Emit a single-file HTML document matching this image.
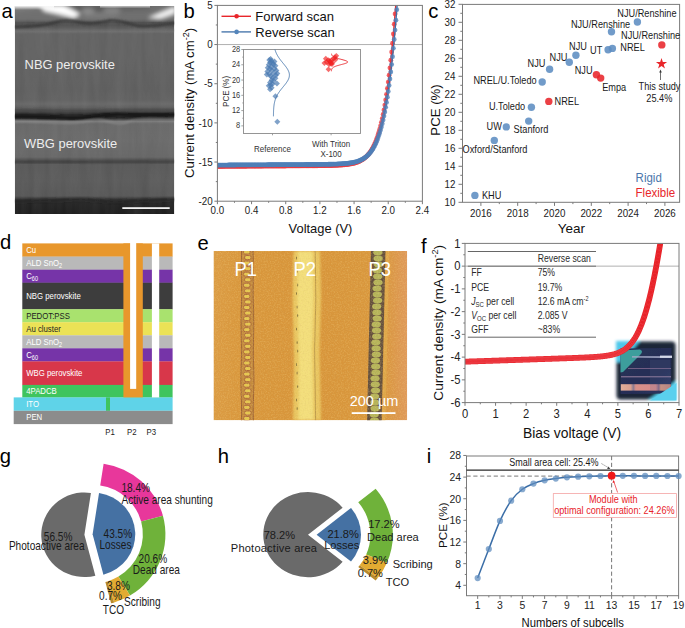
<!DOCTYPE html>
<html><head><meta charset="utf-8"><style>
html,body{margin:0;padding:0;background:#fff;width:685px;height:628px;overflow:hidden}
svg{display:block}
text{font-family:"Liberation Sans", sans-serif}
</style></head><body>
<svg width="685" height="628" viewBox="0 0 685 628" font-family='"Liberation Sans", sans-serif'>
<rect width="685" height="628" fill="#fff"/>
<defs><linearGradient id="semv" x1="0" y1="0" x2="0" y2="1"><stop offset="0.0000" stop-color="#686868"/><stop offset="0.0433" stop-color="#6c6c6c"/><stop offset="0.0625" stop-color="#626262"/><stop offset="0.0793" stop-color="#4c4c4c"/><stop offset="0.0938" stop-color="#4e4e4e"/><stop offset="0.1082" stop-color="#5a5a5a"/><stop offset="0.1226" stop-color="#6a6a6a"/><stop offset="0.1346" stop-color="#5f5f5f"/><stop offset="0.2596" stop-color="#5f5f5f"/><stop offset="0.4038" stop-color="#5c5c5c"/><stop offset="0.4519" stop-color="#5e5e5e"/><stop offset="0.4712" stop-color="#666666"/><stop offset="0.4904" stop-color="#5a5a5a"/><stop offset="0.5048" stop-color="#464646"/><stop offset="0.5192" stop-color="#2a2a2a"/><stop offset="0.5385" stop-color="#222222"/><stop offset="0.5481" stop-color="#505050"/><stop offset="0.5553" stop-color="#767676"/><stop offset="0.5673" stop-color="#666666"/><stop offset="0.6442" stop-color="#686868"/><stop offset="0.7260" stop-color="#646464"/><stop offset="0.7404" stop-color="#4c4c4c"/><stop offset="0.7500" stop-color="#3c3c3c"/><stop offset="0.7620" stop-color="#565656"/><stop offset="0.8365" stop-color="#585858"/><stop offset="0.9135" stop-color="#545454"/><stop offset="0.9303" stop-color="#303030"/><stop offset="0.9471" stop-color="#1f1f1f"/><stop offset="1.0000" stop-color="#1a1a1a"/></linearGradient><filter id="semblur" x="-10%" y="-10%" width="120%" height="120%"><feGaussianBlur stdDeviation="2.3"/></filter><filter id="semblur2" x="-10%" y="-10%" width="120%" height="120%"><feGaussianBlur stdDeviation="1.1"/></filter><filter id="semnoise" x="0" y="0" width="100%" height="100%"><feTurbulence type="fractalNoise" baseFrequency="0.12 0.015" numOctaves="2" seed="3"/><feColorMatrix type="matrix" values="0 0 0 0 0.5  0 0 0 0 0.5  0 0 0 0 0.5  0 0 0 0.22 0"/></filter><clipPath id="semclip"><rect x="14.8" y="6.0" width="159.5" height="208.0"/></clipPath></defs>
<g clip-path="url(#semclip)">
<rect x="14.8" y="6" width="159.5" height="208" fill="url(#semv)" />
<rect x="14.8" y="6.0" width="159.5" height="208.0" filter="url(#semnoise)" opacity="0.6"/>
<g filter="url(#semblur)"><path d="M14,6 L176,6 L176,20 L14,20 Z" fill="#707070"/><path d="M64,6 L105,6 L105,11 L70,12 Z" fill="#595959"/><path d="M105,6 L150,6 L150,10 L105,12 Z" fill="#636363"/><path d="M40,5 L64,5 L80,14 L74,18 L58,14 L44,11 Z" fill="#ffffff"/><path d="M148,18 L176,6 L176,13 L160,19 Z" fill="#f4f4f4"/><path d="M14,5 L40,5 L40,9 L14,12 Z" fill="#7c7c7c"/><path d="M84,14 C95,12 110,14 118,10 L120,16 C110,19 95,18 84,18 Z" fill="#7a7a7a"/><ellipse cx="88" cy="11" rx="7" ry="3" fill="#8c8c8c"/><ellipse cx="112" cy="10" rx="9" ry="2.5" fill="#868686"/></g>
<g filter="url(#semblur2)" fill="none"><path d="M14,27 C30,26.5 45,26 55,22.5 C62,20 70,20 80,22.5 C90,25 100,22.5 110,20.5 C120,19.5 130,25 140,26 C150,27 160,24.5 176,23" stroke="#3a3a3a" stroke-width="2.4"/><path d="M14,31.5 C60,30.5 120,31 176,30.5" stroke="#6e6e6e" stroke-width="1"/><path d="M14,116.5 C30,116 50,117 70,117.8 C90,118.5 105,114 120,114.5 C135,115 150,115.5 176,114.5" stroke="#181818" stroke-width="4.2"/><path d="M14,110.5 C40,110 70,111.5 100,110.5 C130,109.5 150,110.5 176,110" stroke="#464646" stroke-width="1.6"/><path d="M14,121.5 C30,120.5 50,123 70,123 C85,123 92,119 100,120 C110,121 118,126 128,122 C138,118 150,120 176,119.5" stroke="#8a8a8a" stroke-width="1.4"/><path d="M14,161.8 C60,162.5 120,161.3 176,161.5" stroke="#454545" stroke-width="1.2"/><path d="M14,201 C40,201 60,199.5 80,199.5 C95,199.5 100,201.5 115,201.5 C130,201 150,200 176,199.5" stroke="#262626" stroke-width="2.4"/></g>
<defs><linearGradient id="semtop" x1="0" y1="0" x2="0" y2="1"><stop offset="0" stop-color="#fff" stop-opacity="1"/><stop offset="1" stop-color="#fff" stop-opacity="0"/></linearGradient></defs>
<rect x="14" y="5.5" width="40" height="4.5" fill="url(#semtop)"/>
<rect x="100" y="5.5" width="50" height="3" fill="url(#semtop)" opacity="0.7"/>
</g>
<text x="24.6" y="68.6" font-size="12.9" text-anchor="start" fill="#ededed" >NBG perovskite</text>
<text x="24.1" y="148.4" font-size="12.9" text-anchor="start" fill="#ededed" >WBG perovskite</text>
<rect x="122.3" y="207.2" width="47.4" height="1.8" fill="#f2f2f2" />
<text transform="translate(1.6,17.9) scale(1,1.03)" font-size="20.2" text-anchor="start" fill="#000" >a</text>
<line x1="217.4" y1="44.56" x2="422.4" y2="44.56" stroke="#a8a8a8" stroke-width="0.9" />
<clipPath id="bclip"><rect x="217.4" y="5.4" width="204.99999999999997" height="195.79999999999998"/></clipPath>
<g clip-path="url(#bclip)">
<polyline fill="none" stroke="#e8262b" stroke-width="1.4" points="217.4,166.42 218.25,166.41 219.11,166.41 219.96,166.4 220.82,166.39 221.67,166.39 222.53,166.38 223.38,166.38 224.23,166.37 225.09,166.37 225.94,166.36 226.8,166.36 227.65,166.35 228.5,166.35 229.36,166.34 230.21,166.33 231.07,166.33 231.92,166.32 232.78,166.32 233.63,166.31 234.48,166.31 235.34,166.3 236.19,166.3 237.05,166.29 237.9,166.29 238.75,166.28 239.61,166.27 240.46,166.27 241.32,166.26 242.17,166.26 243.03,166.25 243.88,166.25 244.73,166.24 245.59,166.24 246.44,166.23 247.3,166.22 248.15,166.22 249,166.21 249.86,166.21 250.71,166.2 251.57,166.2 252.42,166.19 253.28,166.19 254.13,166.18 254.98,166.18 255.84,166.17 256.69,166.16 257.55,166.16 258.4,166.15 259.25,166.15 260.11,166.14 260.96,166.14 261.82,166.13 262.67,166.13 263.52,166.12 264.38,166.11 265.23,166.11 266.09,166.1 266.94,166.1 267.8,166.09 268.65,166.09 269.5,166.08 270.36,166.08 271.21,166.07 272.07,166.07 272.92,166.06 273.77,166.05 274.63,166.05 275.48,166.04 276.34,166.04 277.19,166.03 278.05,166.03 278.9,166.02 279.75,166.02 280.61,166.01 281.46,166 282.32,166 283.17,165.99 284.02,165.99 284.88,165.98 285.73,165.98 286.59,165.97 287.44,165.97 288.3,165.96 289.15,165.95 290,165.95 290.86,165.94 291.71,165.94 292.57,165.93 293.42,165.93 294.27,165.92 295.13,165.91 295.98,165.91 296.84,165.9 297.69,165.9 298.55,165.89 299.4,165.88 300.25,165.88 301.11,165.87 301.96,165.87 302.82,165.86 303.67,165.85 304.52,165.85 305.38,165.84 306.23,165.83 307.09,165.83 307.94,165.82 308.8,165.81 309.65,165.81 310.5,165.8 311.36,165.79 312.21,165.78 313.07,165.78 313.92,165.77 314.77,165.76 315.63,165.75 316.48,165.74 317.34,165.73 318.19,165.72 319.05,165.72 319.9,165.7 320.75,165.69 321.61,165.68 322.46,165.67 323.32,165.66 324.17,165.64 325.02,165.63 325.88,165.62 326.73,165.6 327.59,165.58 328.44,165.57 329.3,165.55 330.15,165.53 331,165.5 331.86,165.48 332.71,165.45 333.57,165.43 334.42,165.4 335.27,165.37 336.13,165.33 336.98,165.29 337.84,165.25 338.69,165.21 339.55,165.16 340.4,165.11 341.25,165.05 342.11,164.99 342.96,164.93 343.82,164.85 344.67,164.77 345.52,164.69 346.38,164.59 347.23,164.49 348.09,164.37 348.94,164.25 349.8,164.11 350.65,163.97 351.5,163.8 352.36,163.63 353.21,163.43 354.07,163.22 354.92,162.99 355.77,162.73 356.63,162.45 357.48,162.14 358.34,161.81 359.19,161.44 360.05,161.04 360.9,160.6 361.75,160.11 362.61,159.58 363.46,159 364.32,158.37 365.17,157.68 366.02,156.92 366.88,156.09 367.73,155.18 368.59,154.18 369.44,153.09 370.3,151.91 371.15,150.61 372,149.19 372.86,147.65 373.71,145.96 374.57,144.13 375.42,142.13 376.27,139.95 377.13,137.59 377.98,135.02 378.84,132.22 379.69,129.2 380.55,125.92 381.4,122.37 382.25,118.53 383.11,114.38 383.96,109.92 384.82,105.1 385.67,99.93 386.52,94.37 387.38,88.42 388.23,82.04 389.09,75.23 389.94,67.96 390.8,60.22 391.65,51.99 392.5,43.25 393.36,34 394.21,24.22 395.07,13.9 395.92,3.03"/>
<circle cx="217.4" cy="166.42" r="2.4" fill="#ec3a3e" fill-opacity="0.8"/>
<circle cx="218.25" cy="166.41" r="2.4" fill="#ec3a3e" fill-opacity="0.8"/>
<circle cx="219.11" cy="166.41" r="2.4" fill="#ec3a3e" fill-opacity="0.8"/>
<circle cx="219.96" cy="166.4" r="2.4" fill="#ec3a3e" fill-opacity="0.8"/>
<circle cx="220.82" cy="166.39" r="2.4" fill="#ec3a3e" fill-opacity="0.8"/>
<circle cx="221.67" cy="166.39" r="2.4" fill="#ec3a3e" fill-opacity="0.8"/>
<circle cx="222.53" cy="166.38" r="2.4" fill="#ec3a3e" fill-opacity="0.8"/>
<circle cx="223.38" cy="166.38" r="2.4" fill="#ec3a3e" fill-opacity="0.8"/>
<circle cx="224.23" cy="166.37" r="2.4" fill="#ec3a3e" fill-opacity="0.8"/>
<circle cx="225.09" cy="166.37" r="2.4" fill="#ec3a3e" fill-opacity="0.8"/>
<circle cx="225.94" cy="166.36" r="2.4" fill="#ec3a3e" fill-opacity="0.8"/>
<circle cx="226.8" cy="166.36" r="2.4" fill="#ec3a3e" fill-opacity="0.8"/>
<circle cx="227.65" cy="166.35" r="2.4" fill="#ec3a3e" fill-opacity="0.8"/>
<circle cx="228.5" cy="166.35" r="2.4" fill="#ec3a3e" fill-opacity="0.8"/>
<circle cx="229.36" cy="166.34" r="2.4" fill="#ec3a3e" fill-opacity="0.8"/>
<circle cx="230.21" cy="166.33" r="2.4" fill="#ec3a3e" fill-opacity="0.8"/>
<circle cx="231.07" cy="166.33" r="2.4" fill="#ec3a3e" fill-opacity="0.8"/>
<circle cx="231.92" cy="166.32" r="2.4" fill="#ec3a3e" fill-opacity="0.8"/>
<circle cx="232.78" cy="166.32" r="2.4" fill="#ec3a3e" fill-opacity="0.8"/>
<circle cx="233.63" cy="166.31" r="2.4" fill="#ec3a3e" fill-opacity="0.8"/>
<circle cx="234.48" cy="166.31" r="2.4" fill="#ec3a3e" fill-opacity="0.8"/>
<circle cx="235.34" cy="166.3" r="2.4" fill="#ec3a3e" fill-opacity="0.8"/>
<circle cx="236.19" cy="166.3" r="2.4" fill="#ec3a3e" fill-opacity="0.8"/>
<circle cx="237.05" cy="166.29" r="2.4" fill="#ec3a3e" fill-opacity="0.8"/>
<circle cx="237.9" cy="166.29" r="2.4" fill="#ec3a3e" fill-opacity="0.8"/>
<circle cx="238.75" cy="166.28" r="2.4" fill="#ec3a3e" fill-opacity="0.8"/>
<circle cx="239.61" cy="166.27" r="2.4" fill="#ec3a3e" fill-opacity="0.8"/>
<circle cx="240.46" cy="166.27" r="2.4" fill="#ec3a3e" fill-opacity="0.8"/>
<circle cx="241.32" cy="166.26" r="2.4" fill="#ec3a3e" fill-opacity="0.8"/>
<circle cx="242.17" cy="166.26" r="2.4" fill="#ec3a3e" fill-opacity="0.8"/>
<circle cx="243.03" cy="166.25" r="2.4" fill="#ec3a3e" fill-opacity="0.8"/>
<circle cx="243.88" cy="166.25" r="2.4" fill="#ec3a3e" fill-opacity="0.8"/>
<circle cx="244.73" cy="166.24" r="2.4" fill="#ec3a3e" fill-opacity="0.8"/>
<circle cx="245.59" cy="166.24" r="2.4" fill="#ec3a3e" fill-opacity="0.8"/>
<circle cx="246.44" cy="166.23" r="2.4" fill="#ec3a3e" fill-opacity="0.8"/>
<circle cx="247.3" cy="166.22" r="2.4" fill="#ec3a3e" fill-opacity="0.8"/>
<circle cx="248.15" cy="166.22" r="2.4" fill="#ec3a3e" fill-opacity="0.8"/>
<circle cx="249" cy="166.21" r="2.4" fill="#ec3a3e" fill-opacity="0.8"/>
<circle cx="249.86" cy="166.21" r="2.4" fill="#ec3a3e" fill-opacity="0.8"/>
<circle cx="250.71" cy="166.2" r="2.4" fill="#ec3a3e" fill-opacity="0.8"/>
<circle cx="251.57" cy="166.2" r="2.4" fill="#ec3a3e" fill-opacity="0.8"/>
<circle cx="252.42" cy="166.19" r="2.4" fill="#ec3a3e" fill-opacity="0.8"/>
<circle cx="253.28" cy="166.19" r="2.4" fill="#ec3a3e" fill-opacity="0.8"/>
<circle cx="254.13" cy="166.18" r="2.4" fill="#ec3a3e" fill-opacity="0.8"/>
<circle cx="254.98" cy="166.18" r="2.4" fill="#ec3a3e" fill-opacity="0.8"/>
<circle cx="255.84" cy="166.17" r="2.4" fill="#ec3a3e" fill-opacity="0.8"/>
<circle cx="256.69" cy="166.16" r="2.4" fill="#ec3a3e" fill-opacity="0.8"/>
<circle cx="257.55" cy="166.16" r="2.4" fill="#ec3a3e" fill-opacity="0.8"/>
<circle cx="258.4" cy="166.15" r="2.4" fill="#ec3a3e" fill-opacity="0.8"/>
<circle cx="259.25" cy="166.15" r="2.4" fill="#ec3a3e" fill-opacity="0.8"/>
<circle cx="260.11" cy="166.14" r="2.4" fill="#ec3a3e" fill-opacity="0.8"/>
<circle cx="260.96" cy="166.14" r="2.4" fill="#ec3a3e" fill-opacity="0.8"/>
<circle cx="261.82" cy="166.13" r="2.4" fill="#ec3a3e" fill-opacity="0.8"/>
<circle cx="262.67" cy="166.13" r="2.4" fill="#ec3a3e" fill-opacity="0.8"/>
<circle cx="263.52" cy="166.12" r="2.4" fill="#ec3a3e" fill-opacity="0.8"/>
<circle cx="264.38" cy="166.11" r="2.4" fill="#ec3a3e" fill-opacity="0.8"/>
<circle cx="265.23" cy="166.11" r="2.4" fill="#ec3a3e" fill-opacity="0.8"/>
<circle cx="266.09" cy="166.1" r="2.4" fill="#ec3a3e" fill-opacity="0.8"/>
<circle cx="266.94" cy="166.1" r="2.4" fill="#ec3a3e" fill-opacity="0.8"/>
<circle cx="267.8" cy="166.09" r="2.4" fill="#ec3a3e" fill-opacity="0.8"/>
<circle cx="268.65" cy="166.09" r="2.4" fill="#ec3a3e" fill-opacity="0.8"/>
<circle cx="269.5" cy="166.08" r="2.4" fill="#ec3a3e" fill-opacity="0.8"/>
<circle cx="270.36" cy="166.08" r="2.4" fill="#ec3a3e" fill-opacity="0.8"/>
<circle cx="271.21" cy="166.07" r="2.4" fill="#ec3a3e" fill-opacity="0.8"/>
<circle cx="272.07" cy="166.07" r="2.4" fill="#ec3a3e" fill-opacity="0.8"/>
<circle cx="272.92" cy="166.06" r="2.4" fill="#ec3a3e" fill-opacity="0.8"/>
<circle cx="273.77" cy="166.05" r="2.4" fill="#ec3a3e" fill-opacity="0.8"/>
<circle cx="274.63" cy="166.05" r="2.4" fill="#ec3a3e" fill-opacity="0.8"/>
<circle cx="275.48" cy="166.04" r="2.4" fill="#ec3a3e" fill-opacity="0.8"/>
<circle cx="276.34" cy="166.04" r="2.4" fill="#ec3a3e" fill-opacity="0.8"/>
<circle cx="277.19" cy="166.03" r="2.4" fill="#ec3a3e" fill-opacity="0.8"/>
<circle cx="278.05" cy="166.03" r="2.4" fill="#ec3a3e" fill-opacity="0.8"/>
<circle cx="278.9" cy="166.02" r="2.4" fill="#ec3a3e" fill-opacity="0.8"/>
<circle cx="279.75" cy="166.02" r="2.4" fill="#ec3a3e" fill-opacity="0.8"/>
<circle cx="280.61" cy="166.01" r="2.4" fill="#ec3a3e" fill-opacity="0.8"/>
<circle cx="281.46" cy="166" r="2.4" fill="#ec3a3e" fill-opacity="0.8"/>
<circle cx="282.32" cy="166" r="2.4" fill="#ec3a3e" fill-opacity="0.8"/>
<circle cx="283.17" cy="165.99" r="2.4" fill="#ec3a3e" fill-opacity="0.8"/>
<circle cx="284.02" cy="165.99" r="2.4" fill="#ec3a3e" fill-opacity="0.8"/>
<circle cx="284.88" cy="165.98" r="2.4" fill="#ec3a3e" fill-opacity="0.8"/>
<circle cx="285.73" cy="165.98" r="2.4" fill="#ec3a3e" fill-opacity="0.8"/>
<circle cx="286.59" cy="165.97" r="2.4" fill="#ec3a3e" fill-opacity="0.8"/>
<circle cx="287.44" cy="165.97" r="2.4" fill="#ec3a3e" fill-opacity="0.8"/>
<circle cx="288.3" cy="165.96" r="2.4" fill="#ec3a3e" fill-opacity="0.8"/>
<circle cx="289.15" cy="165.95" r="2.4" fill="#ec3a3e" fill-opacity="0.8"/>
<circle cx="290" cy="165.95" r="2.4" fill="#ec3a3e" fill-opacity="0.8"/>
<circle cx="290.86" cy="165.94" r="2.4" fill="#ec3a3e" fill-opacity="0.8"/>
<circle cx="291.71" cy="165.94" r="2.4" fill="#ec3a3e" fill-opacity="0.8"/>
<circle cx="292.57" cy="165.93" r="2.4" fill="#ec3a3e" fill-opacity="0.8"/>
<circle cx="293.42" cy="165.93" r="2.4" fill="#ec3a3e" fill-opacity="0.8"/>
<circle cx="294.27" cy="165.92" r="2.4" fill="#ec3a3e" fill-opacity="0.8"/>
<circle cx="295.13" cy="165.91" r="2.4" fill="#ec3a3e" fill-opacity="0.8"/>
<circle cx="295.98" cy="165.91" r="2.4" fill="#ec3a3e" fill-opacity="0.8"/>
<circle cx="296.84" cy="165.9" r="2.4" fill="#ec3a3e" fill-opacity="0.8"/>
<circle cx="297.69" cy="165.9" r="2.4" fill="#ec3a3e" fill-opacity="0.8"/>
<circle cx="298.55" cy="165.89" r="2.4" fill="#ec3a3e" fill-opacity="0.8"/>
<circle cx="299.4" cy="165.88" r="2.4" fill="#ec3a3e" fill-opacity="0.8"/>
<circle cx="300.25" cy="165.88" r="2.4" fill="#ec3a3e" fill-opacity="0.8"/>
<circle cx="301.11" cy="165.87" r="2.4" fill="#ec3a3e" fill-opacity="0.8"/>
<circle cx="301.96" cy="165.87" r="2.4" fill="#ec3a3e" fill-opacity="0.8"/>
<circle cx="302.82" cy="165.86" r="2.4" fill="#ec3a3e" fill-opacity="0.8"/>
<circle cx="303.67" cy="165.85" r="2.4" fill="#ec3a3e" fill-opacity="0.8"/>
<circle cx="304.52" cy="165.85" r="2.4" fill="#ec3a3e" fill-opacity="0.8"/>
<circle cx="305.38" cy="165.84" r="2.4" fill="#ec3a3e" fill-opacity="0.8"/>
<circle cx="306.23" cy="165.83" r="2.4" fill="#ec3a3e" fill-opacity="0.8"/>
<circle cx="307.09" cy="165.83" r="2.4" fill="#ec3a3e" fill-opacity="0.8"/>
<circle cx="307.94" cy="165.82" r="2.4" fill="#ec3a3e" fill-opacity="0.8"/>
<circle cx="308.8" cy="165.81" r="2.4" fill="#ec3a3e" fill-opacity="0.8"/>
<circle cx="309.65" cy="165.81" r="2.4" fill="#ec3a3e" fill-opacity="0.8"/>
<circle cx="310.5" cy="165.8" r="2.4" fill="#ec3a3e" fill-opacity="0.8"/>
<circle cx="311.36" cy="165.79" r="2.4" fill="#ec3a3e" fill-opacity="0.8"/>
<circle cx="312.21" cy="165.78" r="2.4" fill="#ec3a3e" fill-opacity="0.8"/>
<circle cx="313.07" cy="165.78" r="2.4" fill="#ec3a3e" fill-opacity="0.8"/>
<circle cx="313.92" cy="165.77" r="2.4" fill="#ec3a3e" fill-opacity="0.8"/>
<circle cx="314.77" cy="165.76" r="2.4" fill="#ec3a3e" fill-opacity="0.8"/>
<circle cx="315.63" cy="165.75" r="2.4" fill="#ec3a3e" fill-opacity="0.8"/>
<circle cx="316.48" cy="165.74" r="2.4" fill="#ec3a3e" fill-opacity="0.8"/>
<circle cx="317.34" cy="165.73" r="2.4" fill="#ec3a3e" fill-opacity="0.8"/>
<circle cx="318.19" cy="165.72" r="2.4" fill="#ec3a3e" fill-opacity="0.8"/>
<circle cx="319.05" cy="165.72" r="2.4" fill="#ec3a3e" fill-opacity="0.8"/>
<circle cx="319.9" cy="165.7" r="2.4" fill="#ec3a3e" fill-opacity="0.8"/>
<circle cx="320.75" cy="165.69" r="2.4" fill="#ec3a3e" fill-opacity="0.8"/>
<circle cx="321.61" cy="165.68" r="2.4" fill="#ec3a3e" fill-opacity="0.8"/>
<circle cx="322.46" cy="165.67" r="2.4" fill="#ec3a3e" fill-opacity="0.8"/>
<circle cx="323.32" cy="165.66" r="2.4" fill="#ec3a3e" fill-opacity="0.8"/>
<circle cx="324.17" cy="165.64" r="2.4" fill="#ec3a3e" fill-opacity="0.8"/>
<circle cx="325.02" cy="165.63" r="2.4" fill="#ec3a3e" fill-opacity="0.8"/>
<circle cx="325.88" cy="165.62" r="2.4" fill="#ec3a3e" fill-opacity="0.8"/>
<circle cx="326.73" cy="165.6" r="2.4" fill="#ec3a3e" fill-opacity="0.8"/>
<circle cx="327.59" cy="165.58" r="2.4" fill="#ec3a3e" fill-opacity="0.8"/>
<circle cx="328.44" cy="165.57" r="2.4" fill="#ec3a3e" fill-opacity="0.8"/>
<circle cx="329.3" cy="165.55" r="2.4" fill="#ec3a3e" fill-opacity="0.8"/>
<circle cx="330.15" cy="165.53" r="2.4" fill="#ec3a3e" fill-opacity="0.8"/>
<circle cx="331" cy="165.5" r="2.4" fill="#ec3a3e" fill-opacity="0.8"/>
<circle cx="331.86" cy="165.48" r="2.4" fill="#ec3a3e" fill-opacity="0.8"/>
<circle cx="332.71" cy="165.45" r="2.4" fill="#ec3a3e" fill-opacity="0.8"/>
<circle cx="333.57" cy="165.43" r="2.4" fill="#ec3a3e" fill-opacity="0.8"/>
<circle cx="334.42" cy="165.4" r="2.4" fill="#ec3a3e" fill-opacity="0.8"/>
<circle cx="335.27" cy="165.37" r="2.4" fill="#ec3a3e" fill-opacity="0.8"/>
<circle cx="336.13" cy="165.33" r="2.4" fill="#ec3a3e" fill-opacity="0.8"/>
<circle cx="336.98" cy="165.29" r="2.4" fill="#ec3a3e" fill-opacity="0.8"/>
<circle cx="337.84" cy="165.25" r="2.4" fill="#ec3a3e" fill-opacity="0.8"/>
<circle cx="338.69" cy="165.21" r="2.4" fill="#ec3a3e" fill-opacity="0.8"/>
<circle cx="339.55" cy="165.16" r="2.4" fill="#ec3a3e" fill-opacity="0.8"/>
<circle cx="340.4" cy="165.11" r="2.4" fill="#ec3a3e" fill-opacity="0.8"/>
<circle cx="341.25" cy="165.05" r="2.4" fill="#ec3a3e" fill-opacity="0.8"/>
<circle cx="342.11" cy="164.99" r="2.4" fill="#ec3a3e" fill-opacity="0.8"/>
<circle cx="342.96" cy="164.93" r="2.4" fill="#ec3a3e" fill-opacity="0.8"/>
<circle cx="343.82" cy="164.85" r="2.4" fill="#ec3a3e" fill-opacity="0.8"/>
<circle cx="344.67" cy="164.77" r="2.4" fill="#ec3a3e" fill-opacity="0.8"/>
<circle cx="345.52" cy="164.69" r="2.4" fill="#ec3a3e" fill-opacity="0.8"/>
<circle cx="346.38" cy="164.59" r="2.4" fill="#ec3a3e" fill-opacity="0.8"/>
<circle cx="347.23" cy="164.49" r="2.4" fill="#ec3a3e" fill-opacity="0.8"/>
<circle cx="348.09" cy="164.37" r="2.4" fill="#ec3a3e" fill-opacity="0.8"/>
<circle cx="348.94" cy="164.25" r="2.4" fill="#ec3a3e" fill-opacity="0.8"/>
<circle cx="349.8" cy="164.11" r="2.4" fill="#ec3a3e" fill-opacity="0.8"/>
<circle cx="350.65" cy="163.97" r="2.4" fill="#ec3a3e" fill-opacity="0.8"/>
<circle cx="351.5" cy="163.8" r="2.4" fill="#ec3a3e" fill-opacity="0.8"/>
<circle cx="352.36" cy="163.63" r="2.4" fill="#ec3a3e" fill-opacity="0.8"/>
<circle cx="353.21" cy="163.43" r="2.4" fill="#ec3a3e" fill-opacity="0.8"/>
<circle cx="354.07" cy="163.22" r="2.4" fill="#ec3a3e" fill-opacity="0.8"/>
<circle cx="354.92" cy="162.99" r="2.4" fill="#ec3a3e" fill-opacity="0.8"/>
<circle cx="355.77" cy="162.73" r="2.4" fill="#ec3a3e" fill-opacity="0.8"/>
<circle cx="356.63" cy="162.45" r="2.4" fill="#ec3a3e" fill-opacity="0.8"/>
<circle cx="357.48" cy="162.14" r="2.4" fill="#ec3a3e" fill-opacity="0.8"/>
<circle cx="358.34" cy="161.81" r="2.4" fill="#ec3a3e" fill-opacity="0.8"/>
<circle cx="359.19" cy="161.44" r="2.4" fill="#ec3a3e" fill-opacity="0.8"/>
<circle cx="360.05" cy="161.04" r="2.4" fill="#ec3a3e" fill-opacity="0.8"/>
<circle cx="360.9" cy="160.6" r="2.4" fill="#ec3a3e" fill-opacity="0.8"/>
<circle cx="361.75" cy="160.11" r="2.4" fill="#ec3a3e" fill-opacity="0.8"/>
<circle cx="362.61" cy="159.58" r="2.4" fill="#ec3a3e" fill-opacity="0.8"/>
<circle cx="363.46" cy="159" r="2.4" fill="#ec3a3e" fill-opacity="0.8"/>
<circle cx="364.32" cy="158.37" r="2.4" fill="#ec3a3e" fill-opacity="0.8"/>
<circle cx="365.17" cy="157.68" r="2.4" fill="#ec3a3e" fill-opacity="0.8"/>
<circle cx="366.02" cy="156.92" r="2.4" fill="#ec3a3e" fill-opacity="0.8"/>
<circle cx="366.88" cy="156.09" r="2.4" fill="#ec3a3e" fill-opacity="0.8"/>
<circle cx="367.73" cy="155.18" r="2.4" fill="#ec3a3e" fill-opacity="0.8"/>
<circle cx="368.59" cy="154.18" r="2.4" fill="#ec3a3e" fill-opacity="0.8"/>
<circle cx="369.44" cy="153.09" r="2.4" fill="#ec3a3e" fill-opacity="0.8"/>
<circle cx="370.3" cy="151.91" r="2.4" fill="#ec3a3e" fill-opacity="0.8"/>
<circle cx="371.15" cy="150.61" r="2.4" fill="#ec3a3e" fill-opacity="0.8"/>
<circle cx="372" cy="149.19" r="2.4" fill="#ec3a3e" fill-opacity="0.8"/>
<circle cx="372.86" cy="147.65" r="2.4" fill="#ec3a3e" fill-opacity="0.8"/>
<circle cx="373.71" cy="145.96" r="2.4" fill="#ec3a3e" fill-opacity="0.8"/>
<circle cx="374.57" cy="144.13" r="2.4" fill="#ec3a3e" fill-opacity="0.8"/>
<circle cx="375.42" cy="142.13" r="2.4" fill="#ec3a3e" fill-opacity="0.8"/>
<circle cx="376.27" cy="139.95" r="2.4" fill="#ec3a3e" fill-opacity="0.8"/>
<circle cx="377.13" cy="137.59" r="2.4" fill="#ec3a3e" fill-opacity="0.8"/>
<circle cx="377.98" cy="135.02" r="2.4" fill="#ec3a3e" fill-opacity="0.8"/>
<circle cx="378.84" cy="132.22" r="2.4" fill="#ec3a3e" fill-opacity="0.8"/>
<circle cx="379.69" cy="129.2" r="2.4" fill="#ec3a3e" fill-opacity="0.8"/>
<circle cx="380.55" cy="125.92" r="2.4" fill="#ec3a3e" fill-opacity="0.8"/>
<circle cx="381.4" cy="122.37" r="2.4" fill="#ec3a3e" fill-opacity="0.8"/>
<circle cx="382.25" cy="118.53" r="2.4" fill="#ec3a3e" fill-opacity="0.8"/>
<circle cx="383.11" cy="114.38" r="2.4" fill="#ec3a3e" fill-opacity="0.8"/>
<circle cx="383.96" cy="109.92" r="2.4" fill="#ec3a3e" fill-opacity="0.8"/>
<circle cx="384.82" cy="105.1" r="2.4" fill="#ec3a3e" fill-opacity="0.8"/>
<circle cx="385.67" cy="99.93" r="2.4" fill="#ec3a3e" fill-opacity="0.8"/>
<circle cx="386.52" cy="94.37" r="2.4" fill="#ec3a3e" fill-opacity="0.8"/>
<circle cx="387.38" cy="88.42" r="2.4" fill="#ec3a3e" fill-opacity="0.8"/>
<circle cx="388.23" cy="82.04" r="2.4" fill="#ec3a3e" fill-opacity="0.8"/>
<circle cx="389.09" cy="75.23" r="2.4" fill="#ec3a3e" fill-opacity="0.8"/>
<circle cx="389.94" cy="67.96" r="2.4" fill="#ec3a3e" fill-opacity="0.8"/>
<circle cx="390.8" cy="60.22" r="2.4" fill="#ec3a3e" fill-opacity="0.8"/>
<circle cx="391.65" cy="51.99" r="2.4" fill="#ec3a3e" fill-opacity="0.8"/>
<circle cx="392.5" cy="43.25" r="2.4" fill="#ec3a3e" fill-opacity="0.8"/>
<circle cx="393.36" cy="34" r="2.4" fill="#ec3a3e" fill-opacity="0.8"/>
<circle cx="394.21" cy="24.22" r="2.4" fill="#ec3a3e" fill-opacity="0.8"/>
<circle cx="395.07" cy="13.9" r="2.4" fill="#ec3a3e" fill-opacity="0.8"/>
<circle cx="395.92" cy="3.03" r="2.4" fill="#ec3a3e" fill-opacity="0.8"/>
<polyline fill="none" stroke="#3f6ea6" stroke-width="1.4" points="217.4,165.09 218.25,165.09 219.11,165.08 219.96,165.08 220.82,165.07 221.67,165.07 222.53,165.06 223.38,165.06 224.23,165.05 225.09,165.05 225.94,165.04 226.8,165.03 227.65,165.03 228.5,165.02 229.36,165.02 230.21,165.01 231.07,165.01 231.92,165 232.78,165 233.63,164.99 234.48,164.98 235.34,164.98 236.19,164.97 237.05,164.97 237.9,164.96 238.75,164.96 239.61,164.95 240.46,164.95 241.32,164.94 242.17,164.94 243.03,164.93 243.88,164.92 244.73,164.92 245.59,164.91 246.44,164.91 247.3,164.9 248.15,164.9 249,164.89 249.86,164.89 250.71,164.88 251.57,164.88 252.42,164.87 253.28,164.86 254.13,164.86 254.98,164.85 255.84,164.85 256.69,164.84 257.55,164.84 258.4,164.83 259.25,164.83 260.11,164.82 260.96,164.81 261.82,164.81 262.67,164.8 263.52,164.8 264.38,164.79 265.23,164.79 266.09,164.78 266.94,164.78 267.8,164.77 268.65,164.77 269.5,164.76 270.36,164.75 271.21,164.75 272.07,164.74 272.92,164.74 273.77,164.73 274.63,164.73 275.48,164.72 276.34,164.72 277.19,164.71 278.05,164.7 278.9,164.7 279.75,164.69 280.61,164.69 281.46,164.68 282.32,164.68 283.17,164.67 284.02,164.67 284.88,164.66 285.73,164.65 286.59,164.65 287.44,164.64 288.3,164.64 289.15,164.63 290,164.63 290.86,164.62 291.71,164.62 292.57,164.61 293.42,164.6 294.27,164.6 295.13,164.59 295.98,164.59 296.84,164.58 297.69,164.58 298.55,164.57 299.4,164.56 300.25,164.56 301.11,164.55 301.96,164.55 302.82,164.54 303.67,164.53 304.52,164.53 305.38,164.52 306.23,164.51 307.09,164.51 307.94,164.5 308.8,164.49 309.65,164.49 310.5,164.48 311.36,164.47 312.21,164.47 313.07,164.46 313.92,164.45 314.77,164.44 315.63,164.44 316.48,164.43 317.34,164.42 318.19,164.41 319.05,164.4 319.9,164.39 320.75,164.38 321.61,164.37 322.46,164.36 323.32,164.35 324.17,164.34 325.02,164.32 325.88,164.31 326.73,164.3 327.59,164.28 328.44,164.26 329.3,164.25 330.15,164.23 331,164.21 331.86,164.19 332.71,164.17 333.57,164.14 334.42,164.12 335.27,164.09 336.13,164.06 336.98,164.03 337.84,163.99 338.69,163.95 339.55,163.91 340.4,163.87 341.25,163.82 342.11,163.76 342.96,163.71 343.82,163.64 344.67,163.58 345.52,163.5 346.38,163.42 347.23,163.33 348.09,163.23 348.94,163.13 349.8,163.01 350.65,162.88 351.5,162.74 352.36,162.59 353.21,162.43 354.07,162.24 354.92,162.04 355.77,161.83 356.63,161.59 357.48,161.33 358.34,161.04 359.19,160.73 360.05,160.38 360.9,160 361.75,159.59 362.61,159.14 363.46,158.64 364.32,158.1 365.17,157.51 366.02,156.86 366.88,156.15 367.73,155.37 368.59,154.52 369.44,153.59 370.3,152.57 371.15,151.46 372,150.24 372.86,148.91 373.71,147.46 374.57,145.88 375.42,144.16 376.27,142.28 377.13,140.23 377.98,138.01 378.84,135.59 379.69,132.96 380.55,130.11 381.4,127.01 382.25,123.66 383.11,120.04 383.96,116.12 384.82,111.89 385.67,107.33 386.52,102.42 387.38,97.15 388.23,91.49 389.09,85.42 389.94,78.93 390.8,71.99 391.65,64.6 392.5,56.73 393.36,48.37 394.21,39.5 395.07,30.11 395.92,20.18 396.77,9.72 397.63,-1.3"/>
<circle cx="217.4" cy="165.09" r="2.4" fill="#4f80b8" fill-opacity="0.8"/>
<circle cx="218.25" cy="165.09" r="2.4" fill="#4f80b8" fill-opacity="0.8"/>
<circle cx="219.11" cy="165.08" r="2.4" fill="#4f80b8" fill-opacity="0.8"/>
<circle cx="219.96" cy="165.08" r="2.4" fill="#4f80b8" fill-opacity="0.8"/>
<circle cx="220.82" cy="165.07" r="2.4" fill="#4f80b8" fill-opacity="0.8"/>
<circle cx="221.67" cy="165.07" r="2.4" fill="#4f80b8" fill-opacity="0.8"/>
<circle cx="222.53" cy="165.06" r="2.4" fill="#4f80b8" fill-opacity="0.8"/>
<circle cx="223.38" cy="165.06" r="2.4" fill="#4f80b8" fill-opacity="0.8"/>
<circle cx="224.23" cy="165.05" r="2.4" fill="#4f80b8" fill-opacity="0.8"/>
<circle cx="225.09" cy="165.05" r="2.4" fill="#4f80b8" fill-opacity="0.8"/>
<circle cx="225.94" cy="165.04" r="2.4" fill="#4f80b8" fill-opacity="0.8"/>
<circle cx="226.8" cy="165.03" r="2.4" fill="#4f80b8" fill-opacity="0.8"/>
<circle cx="227.65" cy="165.03" r="2.4" fill="#4f80b8" fill-opacity="0.8"/>
<circle cx="228.5" cy="165.02" r="2.4" fill="#4f80b8" fill-opacity="0.8"/>
<circle cx="229.36" cy="165.02" r="2.4" fill="#4f80b8" fill-opacity="0.8"/>
<circle cx="230.21" cy="165.01" r="2.4" fill="#4f80b8" fill-opacity="0.8"/>
<circle cx="231.07" cy="165.01" r="2.4" fill="#4f80b8" fill-opacity="0.8"/>
<circle cx="231.92" cy="165" r="2.4" fill="#4f80b8" fill-opacity="0.8"/>
<circle cx="232.78" cy="165" r="2.4" fill="#4f80b8" fill-opacity="0.8"/>
<circle cx="233.63" cy="164.99" r="2.4" fill="#4f80b8" fill-opacity="0.8"/>
<circle cx="234.48" cy="164.98" r="2.4" fill="#4f80b8" fill-opacity="0.8"/>
<circle cx="235.34" cy="164.98" r="2.4" fill="#4f80b8" fill-opacity="0.8"/>
<circle cx="236.19" cy="164.97" r="2.4" fill="#4f80b8" fill-opacity="0.8"/>
<circle cx="237.05" cy="164.97" r="2.4" fill="#4f80b8" fill-opacity="0.8"/>
<circle cx="237.9" cy="164.96" r="2.4" fill="#4f80b8" fill-opacity="0.8"/>
<circle cx="238.75" cy="164.96" r="2.4" fill="#4f80b8" fill-opacity="0.8"/>
<circle cx="239.61" cy="164.95" r="2.4" fill="#4f80b8" fill-opacity="0.8"/>
<circle cx="240.46" cy="164.95" r="2.4" fill="#4f80b8" fill-opacity="0.8"/>
<circle cx="241.32" cy="164.94" r="2.4" fill="#4f80b8" fill-opacity="0.8"/>
<circle cx="242.17" cy="164.94" r="2.4" fill="#4f80b8" fill-opacity="0.8"/>
<circle cx="243.03" cy="164.93" r="2.4" fill="#4f80b8" fill-opacity="0.8"/>
<circle cx="243.88" cy="164.92" r="2.4" fill="#4f80b8" fill-opacity="0.8"/>
<circle cx="244.73" cy="164.92" r="2.4" fill="#4f80b8" fill-opacity="0.8"/>
<circle cx="245.59" cy="164.91" r="2.4" fill="#4f80b8" fill-opacity="0.8"/>
<circle cx="246.44" cy="164.91" r="2.4" fill="#4f80b8" fill-opacity="0.8"/>
<circle cx="247.3" cy="164.9" r="2.4" fill="#4f80b8" fill-opacity="0.8"/>
<circle cx="248.15" cy="164.9" r="2.4" fill="#4f80b8" fill-opacity="0.8"/>
<circle cx="249" cy="164.89" r="2.4" fill="#4f80b8" fill-opacity="0.8"/>
<circle cx="249.86" cy="164.89" r="2.4" fill="#4f80b8" fill-opacity="0.8"/>
<circle cx="250.71" cy="164.88" r="2.4" fill="#4f80b8" fill-opacity="0.8"/>
<circle cx="251.57" cy="164.88" r="2.4" fill="#4f80b8" fill-opacity="0.8"/>
<circle cx="252.42" cy="164.87" r="2.4" fill="#4f80b8" fill-opacity="0.8"/>
<circle cx="253.28" cy="164.86" r="2.4" fill="#4f80b8" fill-opacity="0.8"/>
<circle cx="254.13" cy="164.86" r="2.4" fill="#4f80b8" fill-opacity="0.8"/>
<circle cx="254.98" cy="164.85" r="2.4" fill="#4f80b8" fill-opacity="0.8"/>
<circle cx="255.84" cy="164.85" r="2.4" fill="#4f80b8" fill-opacity="0.8"/>
<circle cx="256.69" cy="164.84" r="2.4" fill="#4f80b8" fill-opacity="0.8"/>
<circle cx="257.55" cy="164.84" r="2.4" fill="#4f80b8" fill-opacity="0.8"/>
<circle cx="258.4" cy="164.83" r="2.4" fill="#4f80b8" fill-opacity="0.8"/>
<circle cx="259.25" cy="164.83" r="2.4" fill="#4f80b8" fill-opacity="0.8"/>
<circle cx="260.11" cy="164.82" r="2.4" fill="#4f80b8" fill-opacity="0.8"/>
<circle cx="260.96" cy="164.81" r="2.4" fill="#4f80b8" fill-opacity="0.8"/>
<circle cx="261.82" cy="164.81" r="2.4" fill="#4f80b8" fill-opacity="0.8"/>
<circle cx="262.67" cy="164.8" r="2.4" fill="#4f80b8" fill-opacity="0.8"/>
<circle cx="263.52" cy="164.8" r="2.4" fill="#4f80b8" fill-opacity="0.8"/>
<circle cx="264.38" cy="164.79" r="2.4" fill="#4f80b8" fill-opacity="0.8"/>
<circle cx="265.23" cy="164.79" r="2.4" fill="#4f80b8" fill-opacity="0.8"/>
<circle cx="266.09" cy="164.78" r="2.4" fill="#4f80b8" fill-opacity="0.8"/>
<circle cx="266.94" cy="164.78" r="2.4" fill="#4f80b8" fill-opacity="0.8"/>
<circle cx="267.8" cy="164.77" r="2.4" fill="#4f80b8" fill-opacity="0.8"/>
<circle cx="268.65" cy="164.77" r="2.4" fill="#4f80b8" fill-opacity="0.8"/>
<circle cx="269.5" cy="164.76" r="2.4" fill="#4f80b8" fill-opacity="0.8"/>
<circle cx="270.36" cy="164.75" r="2.4" fill="#4f80b8" fill-opacity="0.8"/>
<circle cx="271.21" cy="164.75" r="2.4" fill="#4f80b8" fill-opacity="0.8"/>
<circle cx="272.07" cy="164.74" r="2.4" fill="#4f80b8" fill-opacity="0.8"/>
<circle cx="272.92" cy="164.74" r="2.4" fill="#4f80b8" fill-opacity="0.8"/>
<circle cx="273.77" cy="164.73" r="2.4" fill="#4f80b8" fill-opacity="0.8"/>
<circle cx="274.63" cy="164.73" r="2.4" fill="#4f80b8" fill-opacity="0.8"/>
<circle cx="275.48" cy="164.72" r="2.4" fill="#4f80b8" fill-opacity="0.8"/>
<circle cx="276.34" cy="164.72" r="2.4" fill="#4f80b8" fill-opacity="0.8"/>
<circle cx="277.19" cy="164.71" r="2.4" fill="#4f80b8" fill-opacity="0.8"/>
<circle cx="278.05" cy="164.7" r="2.4" fill="#4f80b8" fill-opacity="0.8"/>
<circle cx="278.9" cy="164.7" r="2.4" fill="#4f80b8" fill-opacity="0.8"/>
<circle cx="279.75" cy="164.69" r="2.4" fill="#4f80b8" fill-opacity="0.8"/>
<circle cx="280.61" cy="164.69" r="2.4" fill="#4f80b8" fill-opacity="0.8"/>
<circle cx="281.46" cy="164.68" r="2.4" fill="#4f80b8" fill-opacity="0.8"/>
<circle cx="282.32" cy="164.68" r="2.4" fill="#4f80b8" fill-opacity="0.8"/>
<circle cx="283.17" cy="164.67" r="2.4" fill="#4f80b8" fill-opacity="0.8"/>
<circle cx="284.02" cy="164.67" r="2.4" fill="#4f80b8" fill-opacity="0.8"/>
<circle cx="284.88" cy="164.66" r="2.4" fill="#4f80b8" fill-opacity="0.8"/>
<circle cx="285.73" cy="164.65" r="2.4" fill="#4f80b8" fill-opacity="0.8"/>
<circle cx="286.59" cy="164.65" r="2.4" fill="#4f80b8" fill-opacity="0.8"/>
<circle cx="287.44" cy="164.64" r="2.4" fill="#4f80b8" fill-opacity="0.8"/>
<circle cx="288.3" cy="164.64" r="2.4" fill="#4f80b8" fill-opacity="0.8"/>
<circle cx="289.15" cy="164.63" r="2.4" fill="#4f80b8" fill-opacity="0.8"/>
<circle cx="290" cy="164.63" r="2.4" fill="#4f80b8" fill-opacity="0.8"/>
<circle cx="290.86" cy="164.62" r="2.4" fill="#4f80b8" fill-opacity="0.8"/>
<circle cx="291.71" cy="164.62" r="2.4" fill="#4f80b8" fill-opacity="0.8"/>
<circle cx="292.57" cy="164.61" r="2.4" fill="#4f80b8" fill-opacity="0.8"/>
<circle cx="293.42" cy="164.6" r="2.4" fill="#4f80b8" fill-opacity="0.8"/>
<circle cx="294.27" cy="164.6" r="2.4" fill="#4f80b8" fill-opacity="0.8"/>
<circle cx="295.13" cy="164.59" r="2.4" fill="#4f80b8" fill-opacity="0.8"/>
<circle cx="295.98" cy="164.59" r="2.4" fill="#4f80b8" fill-opacity="0.8"/>
<circle cx="296.84" cy="164.58" r="2.4" fill="#4f80b8" fill-opacity="0.8"/>
<circle cx="297.69" cy="164.58" r="2.4" fill="#4f80b8" fill-opacity="0.8"/>
<circle cx="298.55" cy="164.57" r="2.4" fill="#4f80b8" fill-opacity="0.8"/>
<circle cx="299.4" cy="164.56" r="2.4" fill="#4f80b8" fill-opacity="0.8"/>
<circle cx="300.25" cy="164.56" r="2.4" fill="#4f80b8" fill-opacity="0.8"/>
<circle cx="301.11" cy="164.55" r="2.4" fill="#4f80b8" fill-opacity="0.8"/>
<circle cx="301.96" cy="164.55" r="2.4" fill="#4f80b8" fill-opacity="0.8"/>
<circle cx="302.82" cy="164.54" r="2.4" fill="#4f80b8" fill-opacity="0.8"/>
<circle cx="303.67" cy="164.53" r="2.4" fill="#4f80b8" fill-opacity="0.8"/>
<circle cx="304.52" cy="164.53" r="2.4" fill="#4f80b8" fill-opacity="0.8"/>
<circle cx="305.38" cy="164.52" r="2.4" fill="#4f80b8" fill-opacity="0.8"/>
<circle cx="306.23" cy="164.51" r="2.4" fill="#4f80b8" fill-opacity="0.8"/>
<circle cx="307.09" cy="164.51" r="2.4" fill="#4f80b8" fill-opacity="0.8"/>
<circle cx="307.94" cy="164.5" r="2.4" fill="#4f80b8" fill-opacity="0.8"/>
<circle cx="308.8" cy="164.49" r="2.4" fill="#4f80b8" fill-opacity="0.8"/>
<circle cx="309.65" cy="164.49" r="2.4" fill="#4f80b8" fill-opacity="0.8"/>
<circle cx="310.5" cy="164.48" r="2.4" fill="#4f80b8" fill-opacity="0.8"/>
<circle cx="311.36" cy="164.47" r="2.4" fill="#4f80b8" fill-opacity="0.8"/>
<circle cx="312.21" cy="164.47" r="2.4" fill="#4f80b8" fill-opacity="0.8"/>
<circle cx="313.07" cy="164.46" r="2.4" fill="#4f80b8" fill-opacity="0.8"/>
<circle cx="313.92" cy="164.45" r="2.4" fill="#4f80b8" fill-opacity="0.8"/>
<circle cx="314.77" cy="164.44" r="2.4" fill="#4f80b8" fill-opacity="0.8"/>
<circle cx="315.63" cy="164.44" r="2.4" fill="#4f80b8" fill-opacity="0.8"/>
<circle cx="316.48" cy="164.43" r="2.4" fill="#4f80b8" fill-opacity="0.8"/>
<circle cx="317.34" cy="164.42" r="2.4" fill="#4f80b8" fill-opacity="0.8"/>
<circle cx="318.19" cy="164.41" r="2.4" fill="#4f80b8" fill-opacity="0.8"/>
<circle cx="319.05" cy="164.4" r="2.4" fill="#4f80b8" fill-opacity="0.8"/>
<circle cx="319.9" cy="164.39" r="2.4" fill="#4f80b8" fill-opacity="0.8"/>
<circle cx="320.75" cy="164.38" r="2.4" fill="#4f80b8" fill-opacity="0.8"/>
<circle cx="321.61" cy="164.37" r="2.4" fill="#4f80b8" fill-opacity="0.8"/>
<circle cx="322.46" cy="164.36" r="2.4" fill="#4f80b8" fill-opacity="0.8"/>
<circle cx="323.32" cy="164.35" r="2.4" fill="#4f80b8" fill-opacity="0.8"/>
<circle cx="324.17" cy="164.34" r="2.4" fill="#4f80b8" fill-opacity="0.8"/>
<circle cx="325.02" cy="164.32" r="2.4" fill="#4f80b8" fill-opacity="0.8"/>
<circle cx="325.88" cy="164.31" r="2.4" fill="#4f80b8" fill-opacity="0.8"/>
<circle cx="326.73" cy="164.3" r="2.4" fill="#4f80b8" fill-opacity="0.8"/>
<circle cx="327.59" cy="164.28" r="2.4" fill="#4f80b8" fill-opacity="0.8"/>
<circle cx="328.44" cy="164.26" r="2.4" fill="#4f80b8" fill-opacity="0.8"/>
<circle cx="329.3" cy="164.25" r="2.4" fill="#4f80b8" fill-opacity="0.8"/>
<circle cx="330.15" cy="164.23" r="2.4" fill="#4f80b8" fill-opacity="0.8"/>
<circle cx="331" cy="164.21" r="2.4" fill="#4f80b8" fill-opacity="0.8"/>
<circle cx="331.86" cy="164.19" r="2.4" fill="#4f80b8" fill-opacity="0.8"/>
<circle cx="332.71" cy="164.17" r="2.4" fill="#4f80b8" fill-opacity="0.8"/>
<circle cx="333.57" cy="164.14" r="2.4" fill="#4f80b8" fill-opacity="0.8"/>
<circle cx="334.42" cy="164.12" r="2.4" fill="#4f80b8" fill-opacity="0.8"/>
<circle cx="335.27" cy="164.09" r="2.4" fill="#4f80b8" fill-opacity="0.8"/>
<circle cx="336.13" cy="164.06" r="2.4" fill="#4f80b8" fill-opacity="0.8"/>
<circle cx="336.98" cy="164.03" r="2.4" fill="#4f80b8" fill-opacity="0.8"/>
<circle cx="337.84" cy="163.99" r="2.4" fill="#4f80b8" fill-opacity="0.8"/>
<circle cx="338.69" cy="163.95" r="2.4" fill="#4f80b8" fill-opacity="0.8"/>
<circle cx="339.55" cy="163.91" r="2.4" fill="#4f80b8" fill-opacity="0.8"/>
<circle cx="340.4" cy="163.87" r="2.4" fill="#4f80b8" fill-opacity="0.8"/>
<circle cx="341.25" cy="163.82" r="2.4" fill="#4f80b8" fill-opacity="0.8"/>
<circle cx="342.11" cy="163.76" r="2.4" fill="#4f80b8" fill-opacity="0.8"/>
<circle cx="342.96" cy="163.71" r="2.4" fill="#4f80b8" fill-opacity="0.8"/>
<circle cx="343.82" cy="163.64" r="2.4" fill="#4f80b8" fill-opacity="0.8"/>
<circle cx="344.67" cy="163.58" r="2.4" fill="#4f80b8" fill-opacity="0.8"/>
<circle cx="345.52" cy="163.5" r="2.4" fill="#4f80b8" fill-opacity="0.8"/>
<circle cx="346.38" cy="163.42" r="2.4" fill="#4f80b8" fill-opacity="0.8"/>
<circle cx="347.23" cy="163.33" r="2.4" fill="#4f80b8" fill-opacity="0.8"/>
<circle cx="348.09" cy="163.23" r="2.4" fill="#4f80b8" fill-opacity="0.8"/>
<circle cx="348.94" cy="163.13" r="2.4" fill="#4f80b8" fill-opacity="0.8"/>
<circle cx="349.8" cy="163.01" r="2.4" fill="#4f80b8" fill-opacity="0.8"/>
<circle cx="350.65" cy="162.88" r="2.4" fill="#4f80b8" fill-opacity="0.8"/>
<circle cx="351.5" cy="162.74" r="2.4" fill="#4f80b8" fill-opacity="0.8"/>
<circle cx="352.36" cy="162.59" r="2.4" fill="#4f80b8" fill-opacity="0.8"/>
<circle cx="353.21" cy="162.43" r="2.4" fill="#4f80b8" fill-opacity="0.8"/>
<circle cx="354.07" cy="162.24" r="2.4" fill="#4f80b8" fill-opacity="0.8"/>
<circle cx="354.92" cy="162.04" r="2.4" fill="#4f80b8" fill-opacity="0.8"/>
<circle cx="355.77" cy="161.83" r="2.4" fill="#4f80b8" fill-opacity="0.8"/>
<circle cx="356.63" cy="161.59" r="2.4" fill="#4f80b8" fill-opacity="0.8"/>
<circle cx="357.48" cy="161.33" r="2.4" fill="#4f80b8" fill-opacity="0.8"/>
<circle cx="358.34" cy="161.04" r="2.4" fill="#4f80b8" fill-opacity="0.8"/>
<circle cx="359.19" cy="160.73" r="2.4" fill="#4f80b8" fill-opacity="0.8"/>
<circle cx="360.05" cy="160.38" r="2.4" fill="#4f80b8" fill-opacity="0.8"/>
<circle cx="360.9" cy="160" r="2.4" fill="#4f80b8" fill-opacity="0.8"/>
<circle cx="361.75" cy="159.59" r="2.4" fill="#4f80b8" fill-opacity="0.8"/>
<circle cx="362.61" cy="159.14" r="2.4" fill="#4f80b8" fill-opacity="0.8"/>
<circle cx="363.46" cy="158.64" r="2.4" fill="#4f80b8" fill-opacity="0.8"/>
<circle cx="364.32" cy="158.1" r="2.4" fill="#4f80b8" fill-opacity="0.8"/>
<circle cx="365.17" cy="157.51" r="2.4" fill="#4f80b8" fill-opacity="0.8"/>
<circle cx="366.02" cy="156.86" r="2.4" fill="#4f80b8" fill-opacity="0.8"/>
<circle cx="366.88" cy="156.15" r="2.4" fill="#4f80b8" fill-opacity="0.8"/>
<circle cx="367.73" cy="155.37" r="2.4" fill="#4f80b8" fill-opacity="0.8"/>
<circle cx="368.59" cy="154.52" r="2.4" fill="#4f80b8" fill-opacity="0.8"/>
<circle cx="369.44" cy="153.59" r="2.4" fill="#4f80b8" fill-opacity="0.8"/>
<circle cx="370.3" cy="152.57" r="2.4" fill="#4f80b8" fill-opacity="0.8"/>
<circle cx="371.15" cy="151.46" r="2.4" fill="#4f80b8" fill-opacity="0.8"/>
<circle cx="372" cy="150.24" r="2.4" fill="#4f80b8" fill-opacity="0.8"/>
<circle cx="372.86" cy="148.91" r="2.4" fill="#4f80b8" fill-opacity="0.8"/>
<circle cx="373.71" cy="147.46" r="2.4" fill="#4f80b8" fill-opacity="0.8"/>
<circle cx="374.57" cy="145.88" r="2.4" fill="#4f80b8" fill-opacity="0.8"/>
<circle cx="375.42" cy="144.16" r="2.4" fill="#4f80b8" fill-opacity="0.8"/>
<circle cx="376.27" cy="142.28" r="2.4" fill="#4f80b8" fill-opacity="0.8"/>
<circle cx="377.13" cy="140.23" r="2.4" fill="#4f80b8" fill-opacity="0.8"/>
<circle cx="377.98" cy="138.01" r="2.4" fill="#4f80b8" fill-opacity="0.8"/>
<circle cx="378.84" cy="135.59" r="2.4" fill="#4f80b8" fill-opacity="0.8"/>
<circle cx="379.69" cy="132.96" r="2.4" fill="#4f80b8" fill-opacity="0.8"/>
<circle cx="380.55" cy="130.11" r="2.4" fill="#4f80b8" fill-opacity="0.8"/>
<circle cx="381.4" cy="127.01" r="2.4" fill="#4f80b8" fill-opacity="0.8"/>
<circle cx="382.25" cy="123.66" r="2.4" fill="#4f80b8" fill-opacity="0.8"/>
<circle cx="383.11" cy="120.04" r="2.4" fill="#4f80b8" fill-opacity="0.8"/>
<circle cx="383.96" cy="116.12" r="2.4" fill="#4f80b8" fill-opacity="0.8"/>
<circle cx="384.82" cy="111.89" r="2.4" fill="#4f80b8" fill-opacity="0.8"/>
<circle cx="385.67" cy="107.33" r="2.4" fill="#4f80b8" fill-opacity="0.8"/>
<circle cx="386.52" cy="102.42" r="2.4" fill="#4f80b8" fill-opacity="0.8"/>
<circle cx="387.38" cy="97.15" r="2.4" fill="#4f80b8" fill-opacity="0.8"/>
<circle cx="388.23" cy="91.49" r="2.4" fill="#4f80b8" fill-opacity="0.8"/>
<circle cx="389.09" cy="85.42" r="2.4" fill="#4f80b8" fill-opacity="0.8"/>
<circle cx="389.94" cy="78.93" r="2.4" fill="#4f80b8" fill-opacity="0.8"/>
<circle cx="390.8" cy="71.99" r="2.4" fill="#4f80b8" fill-opacity="0.8"/>
<circle cx="391.65" cy="64.6" r="2.4" fill="#4f80b8" fill-opacity="0.8"/>
<circle cx="392.5" cy="56.73" r="2.4" fill="#4f80b8" fill-opacity="0.8"/>
<circle cx="393.36" cy="48.37" r="2.4" fill="#4f80b8" fill-opacity="0.8"/>
<circle cx="394.21" cy="39.5" r="2.4" fill="#4f80b8" fill-opacity="0.8"/>
<circle cx="395.07" cy="30.11" r="2.4" fill="#4f80b8" fill-opacity="0.8"/>
<circle cx="395.92" cy="20.18" r="2.4" fill="#4f80b8" fill-opacity="0.8"/>
<circle cx="396.77" cy="9.72" r="2.4" fill="#4f80b8" fill-opacity="0.8"/>
<circle cx="397.63" cy="-1.3" r="2.4" fill="#4f80b8" fill-opacity="0.8"/>
</g>
<rect x="217.4" y="5.4" width="204.99999999999997" height="195.79999999999998" fill="none" stroke="#7a7a7a" stroke-width="1"/>
<line x1="217.4" y1="201.2" x2="217.4" y2="204.2" stroke="#7a7a7a" stroke-width="1" />
<text transform="translate(217.4,214) scale(1,1.2)" font-size="9.8" text-anchor="middle" fill="#222" >0.0</text>
<line x1="234.48" y1="201.2" x2="234.48" y2="202.8" stroke="#7a7a7a" stroke-width="1" />
<line x1="251.57" y1="201.2" x2="251.57" y2="204.2" stroke="#7a7a7a" stroke-width="1" />
<text transform="translate(251.57,214) scale(1,1.2)" font-size="9.8" text-anchor="middle" fill="#222" >0.4</text>
<line x1="268.65" y1="201.2" x2="268.65" y2="202.8" stroke="#7a7a7a" stroke-width="1" />
<line x1="285.73" y1="201.2" x2="285.73" y2="204.2" stroke="#7a7a7a" stroke-width="1" />
<text transform="translate(285.73,214) scale(1,1.2)" font-size="9.8" text-anchor="middle" fill="#222" >0.8</text>
<line x1="302.82" y1="201.2" x2="302.82" y2="202.8" stroke="#7a7a7a" stroke-width="1" />
<line x1="319.9" y1="201.2" x2="319.9" y2="204.2" stroke="#7a7a7a" stroke-width="1" />
<text transform="translate(319.9,214) scale(1,1.2)" font-size="9.8" text-anchor="middle" fill="#222" >1.2</text>
<line x1="336.98" y1="201.2" x2="336.98" y2="202.8" stroke="#7a7a7a" stroke-width="1" />
<line x1="354.07" y1="201.2" x2="354.07" y2="204.2" stroke="#7a7a7a" stroke-width="1" />
<text transform="translate(354.07,214) scale(1,1.2)" font-size="9.8" text-anchor="middle" fill="#222" >1.6</text>
<line x1="371.15" y1="201.2" x2="371.15" y2="202.8" stroke="#7a7a7a" stroke-width="1" />
<line x1="388.23" y1="201.2" x2="388.23" y2="204.2" stroke="#7a7a7a" stroke-width="1" />
<text transform="translate(388.23,214) scale(1,1.2)" font-size="9.8" text-anchor="middle" fill="#222" >2.0</text>
<line x1="405.32" y1="201.2" x2="405.32" y2="202.8" stroke="#7a7a7a" stroke-width="1" />
<line x1="422.4" y1="201.2" x2="422.4" y2="204.2" stroke="#7a7a7a" stroke-width="1" />
<text transform="translate(422.4,214) scale(1,1.2)" font-size="9.8" text-anchor="middle" fill="#222" >2.4</text>
<line x1="214.4" y1="5.4" x2="217.4" y2="5.4" stroke="#7a7a7a" stroke-width="1" />
<text transform="translate(212.6,9.1) scale(1,1.2)" font-size="9.8" text-anchor="end" fill="#222" >5</text>
<line x1="215.8" y1="24.98" x2="217.4" y2="24.98" stroke="#7a7a7a" stroke-width="1" />
<line x1="214.4" y1="44.56" x2="217.4" y2="44.56" stroke="#7a7a7a" stroke-width="1" />
<text transform="translate(212.6,48.26) scale(1,1.2)" font-size="9.8" text-anchor="end" fill="#222" >0</text>
<line x1="215.8" y1="64.14" x2="217.4" y2="64.14" stroke="#7a7a7a" stroke-width="1" />
<line x1="214.4" y1="83.72" x2="217.4" y2="83.72" stroke="#7a7a7a" stroke-width="1" />
<text transform="translate(212.6,87.42) scale(1,1.2)" font-size="9.8" text-anchor="end" fill="#222" >-5</text>
<line x1="215.8" y1="103.3" x2="217.4" y2="103.3" stroke="#7a7a7a" stroke-width="1" />
<line x1="214.4" y1="122.88" x2="217.4" y2="122.88" stroke="#7a7a7a" stroke-width="1" />
<text transform="translate(212.6,126.58) scale(1,1.2)" font-size="9.8" text-anchor="end" fill="#222" >-10</text>
<line x1="215.8" y1="142.46" x2="217.4" y2="142.46" stroke="#7a7a7a" stroke-width="1" />
<line x1="214.4" y1="162.04" x2="217.4" y2="162.04" stroke="#7a7a7a" stroke-width="1" />
<text transform="translate(212.6,165.74) scale(1,1.2)" font-size="9.8" text-anchor="end" fill="#222" >-15</text>
<line x1="215.8" y1="181.62" x2="217.4" y2="181.62" stroke="#7a7a7a" stroke-width="1" />
<line x1="214.4" y1="201.2" x2="217.4" y2="201.2" stroke="#7a7a7a" stroke-width="1" />
<text transform="translate(212.6,204.9) scale(1,1.2)" font-size="9.8" text-anchor="end" fill="#222" >-20</text>
<line x1="221.5" y1="16.3" x2="251" y2="16.3" stroke="#e8262b" stroke-width="1.4" />
<circle cx="236.6" cy="16.3" r="2.3" fill="#e8262b"/>
<line x1="221.5" y1="31.9" x2="251" y2="31.9" stroke="#4a78ad" stroke-width="1.4" />
<circle cx="236.6" cy="31.9" r="2.3" fill="#5485bb"/>
<text x="255.3" y="20.9" font-size="13" text-anchor="start" fill="#111" >Forward scan</text>
<text x="255.3" y="36.5" font-size="13" text-anchor="start" fill="#111" >Reverse scan</text>
<text transform="translate(194.3,103) rotate(-90) scale(1,1.0)" font-size="13.2" text-anchor="middle" fill="#111">Current density (mA cm<tspan font-size="9" dy="-5">-2</tspan><tspan dy="5">)</tspan></text>
<text x="320.5" y="232.8" font-size="12.9" text-anchor="middle" fill="#111" >Voltage (V)</text>
<rect x="243.5" y="49.5" width="117" height="84" fill="#fff" stroke="#8a8a8a" stroke-width="0.9"/>
<line x1="241.3" y1="125.86" x2="243.5" y2="125.86" stroke="#8a8a8a" stroke-width="0.8" />
<text transform="translate(240.2,128.46) scale(1,1.18)" font-size="7.4" text-anchor="end" fill="#333" >8</text>
<line x1="242.3" y1="118.23" x2="243.5" y2="118.23" stroke="#8a8a8a" stroke-width="0.8" />
<line x1="241.3" y1="110.59" x2="243.5" y2="110.59" stroke="#8a8a8a" stroke-width="0.8" />
<text transform="translate(240.2,113.19) scale(1,1.18)" font-size="7.4" text-anchor="end" fill="#333" >12</text>
<line x1="242.3" y1="102.95" x2="243.5" y2="102.95" stroke="#8a8a8a" stroke-width="0.8" />
<line x1="241.3" y1="95.32" x2="243.5" y2="95.32" stroke="#8a8a8a" stroke-width="0.8" />
<text transform="translate(240.2,97.92) scale(1,1.18)" font-size="7.4" text-anchor="end" fill="#333" >16</text>
<line x1="242.3" y1="87.68" x2="243.5" y2="87.68" stroke="#8a8a8a" stroke-width="0.8" />
<line x1="241.3" y1="80.05" x2="243.5" y2="80.05" stroke="#8a8a8a" stroke-width="0.8" />
<text transform="translate(240.2,82.65) scale(1,1.18)" font-size="7.4" text-anchor="end" fill="#333" >20</text>
<line x1="242.3" y1="72.41" x2="243.5" y2="72.41" stroke="#8a8a8a" stroke-width="0.8" />
<line x1="241.3" y1="64.77" x2="243.5" y2="64.77" stroke="#8a8a8a" stroke-width="0.8" />
<text transform="translate(240.2,67.37) scale(1,1.18)" font-size="7.4" text-anchor="end" fill="#333" >24</text>
<line x1="242.3" y1="57.14" x2="243.5" y2="57.14" stroke="#8a8a8a" stroke-width="0.8" />
<line x1="241.3" y1="49.5" x2="243.5" y2="49.5" stroke="#8a8a8a" stroke-width="0.8" />
<text transform="translate(240.2,52.1) scale(1,1.18)" font-size="7.4" text-anchor="end" fill="#333" >28</text>
<line x1="272.5" y1="133.5" x2="272.5" y2="135.3" stroke="#8a8a8a" stroke-width="0.8" />
<line x1="331.1" y1="133.5" x2="331.1" y2="135.3" stroke="#8a8a8a" stroke-width="0.8" />
<text transform="translate(229.3,91.4) rotate(-90) scale(1,1.18)" font-size="8.0" text-anchor="middle" fill="#333">PCE (%)</text>
<text transform="translate(272.5,151.8) scale(1,1.18)" font-size="8.0" text-anchor="middle" fill="#333" >Reference</text>
<text transform="translate(331.1,147) scale(1,1.18)" font-size="8.0" text-anchor="middle" fill="#333" >With Triton</text>
<text transform="translate(331.1,156.6) scale(1,1.18)" font-size="8.0" text-anchor="middle" fill="#333" >X-100</text>
<path d="M270.64,56.11L273.64,59.11L270.64,62.11L267.64,59.11Z" fill="#4a7ab2" fill-opacity="0.7"/>
<path d="M271.6,58.02L274.6,61.02L271.6,64.02L268.6,61.02Z" fill="#4a7ab2" fill-opacity="0.7"/>
<path d="M270.07,59.55L273.07,62.55L270.07,65.55L267.07,62.55Z" fill="#4a7ab2" fill-opacity="0.7"/>
<path d="M272.55,59.93L275.55,62.93L272.55,65.93L269.55,62.93Z" fill="#4a7ab2" fill-opacity="0.7"/>
<path d="M268.73,61.84L271.73,64.84L268.73,67.84L265.73,64.84Z" fill="#4a7ab2" fill-opacity="0.7"/>
<path d="M273.51,61.46L276.51,64.46L273.51,67.46L270.51,64.46Z" fill="#4a7ab2" fill-opacity="0.7"/>
<path d="M271.21,63.75L274.21,66.75L271.21,69.75L268.21,66.75Z" fill="#4a7ab2" fill-opacity="0.7"/>
<path d="M275.42,62.8L278.42,65.8L275.42,68.8L272.42,65.8Z" fill="#4a7ab2" fill-opacity="0.7"/>
<path d="M267.77,64.71L270.77,67.71L267.77,70.71L264.77,67.71Z" fill="#4a7ab2" fill-opacity="0.7"/>
<path d="M270.07,65.66L273.07,68.66L270.07,71.66L267.07,68.66Z" fill="#4a7ab2" fill-opacity="0.7"/>
<path d="M274.46,65.66L277.46,68.66L274.46,71.66L271.46,68.66Z" fill="#4a7ab2" fill-opacity="0.7"/>
<path d="M271.6,67.58L274.6,70.58L271.6,73.58L268.6,70.58Z" fill="#4a7ab2" fill-opacity="0.7"/>
<path d="M276.37,67.58L279.37,70.58L276.37,73.58L273.37,70.58Z" fill="#4a7ab2" fill-opacity="0.7"/>
<path d="M266.82,71.4L269.82,74.4L266.82,77.4L263.82,74.4Z" fill="#4a7ab2" fill-opacity="0.7"/>
<path d="M269.3,71.01L272.3,74.01L269.3,77.01L266.3,74.01Z" fill="#4a7ab2" fill-opacity="0.7"/>
<path d="M273.51,70.44L276.51,73.44L273.51,76.44L270.51,73.44Z" fill="#4a7ab2" fill-opacity="0.7"/>
<path d="M277.33,70.44L280.33,73.44L277.33,76.44L274.33,73.44Z" fill="#4a7ab2" fill-opacity="0.7"/>
<path d="M270.64,73.31L273.64,76.31L270.64,79.31L267.64,76.31Z" fill="#4a7ab2" fill-opacity="0.7"/>
<path d="M272.55,74.84L275.55,77.84L272.55,80.84L269.55,77.84Z" fill="#4a7ab2" fill-opacity="0.7"/>
<path d="M275.42,75.22L278.42,78.22L275.42,81.22L272.42,78.22Z" fill="#4a7ab2" fill-opacity="0.7"/>
<path d="M271.6,77.13L274.6,80.13L271.6,83.13L268.6,80.13Z" fill="#4a7ab2" fill-opacity="0.7"/>
<path d="M273.51,78.09L276.51,81.09L273.51,84.09L270.51,81.09Z" fill="#4a7ab2" fill-opacity="0.7"/>
<path d="M268.73,82.86L271.73,85.86L268.73,88.86L265.73,85.86Z" fill="#4a7ab2" fill-opacity="0.7"/>
<path d="M270.64,81.91L273.64,84.91L270.64,87.91L267.64,84.91Z" fill="#4a7ab2" fill-opacity="0.7"/>
<path d="M272.55,80.95L275.55,83.95L272.55,86.95L269.55,83.95Z" fill="#4a7ab2" fill-opacity="0.7"/>
<path d="M276.95,80.57L279.95,83.57L276.95,86.57L273.95,83.57Z" fill="#4a7ab2" fill-opacity="0.7"/>
<path d="M270.07,86.3L273.07,89.3L270.07,92.3L267.07,89.3Z" fill="#4a7ab2" fill-opacity="0.7"/>
<path d="M271.6,84.77L274.6,87.77L271.6,90.77L268.6,87.77Z" fill="#4a7ab2" fill-opacity="0.7"/>
<path d="M275.42,93.37L278.42,96.37L275.42,99.37L272.42,96.37Z" fill="#4a7ab2" fill-opacity="0.7"/>
<path d="M277.33,118.79L280.33,121.79L277.33,124.79L274.33,121.79Z" fill="#4a7ab2" fill-opacity="0.7"/>
<path d="M269.3,57.06L272.3,60.06L269.3,63.06L266.3,60.06Z" fill="#4a7ab2" fill-opacity="0.7"/>
<path d="M274.46,58.4L277.46,61.4L274.46,64.4L271.46,61.4Z" fill="#4a7ab2" fill-opacity="0.7"/>
<path d="M267.39,68.53L270.39,71.53L267.39,74.53L264.39,71.53Z" fill="#4a7ab2" fill-opacity="0.7"/>
<path d="M275.8,72.35L278.8,75.35L275.8,78.35L272.8,75.35Z" fill="#4a7ab2" fill-opacity="0.7"/>
<path d="M270.07,79.42L273.07,82.42L270.07,85.42L267.07,82.42Z" fill="#4a7ab2" fill-opacity="0.7"/>
<polyline fill="none" stroke="#4a78ad" stroke-width="0.9" points="274.95,49.5 275.15,50.17 275.36,50.84 275.6,51.5 275.86,52.17 276.14,52.84 276.44,53.51 276.76,54.18 277.11,54.85 277.48,55.51 277.87,56.18 278.29,56.85 278.72,57.52 279.18,58.19 279.65,58.85 280.14,59.52 280.65,60.19 281.17,60.86 281.71,61.53 282.25,62.2 282.79,62.86 283.34,63.53 283.89,64.2 284.43,64.87 284.96,65.54 285.48,66.2 285.98,66.87 286.46,67.54 286.92,68.21 287.35,68.88 287.74,69.55 288.1,70.21 288.42,70.88 288.7,71.55 288.94,72.22 289.13,72.89 289.27,73.55 289.36,74.22 289.4,74.89 289.39,75.56 289.33,76.23 289.21,76.9 289.05,77.56 288.84,78.23 288.59,78.9 288.29,79.57 287.95,80.24 287.58,80.9 287.17,81.57 286.73,82.24 286.26,82.91 285.77,83.58 285.26,84.25 284.73,84.91 284.2,85.58 283.65,86.25 283.1,86.92 282.56,87.59 282.01,88.25 281.48,88.92 280.95,89.59 280.43,90.26 279.93,90.93 279.45,91.6 278.98,92.26 278.53,92.93 278.11,93.6 277.7,94.27 277.32,94.94 276.96,95.6 276.62,96.27 276.31,96.94 276.02,97.61 275.75,98.28 275.5,98.95 275.27,99.61 275.06,100.28 274.87,100.95 274.7,101.62 274.54,102.29 274.4,102.95 274.27,103.62 274.16,104.29 274.06,104.96 273.97,105.63 273.89,106.3 273.83,106.96 273.76,107.63 273.71,108.3 273.67,108.97 273.63,109.64 273.59,110.3 273.56,110.97 273.54,111.64 273.51,112.31 273.5,112.98 273.48,113.65 273.47,114.31 273.45,114.98 273.45,115.65 273.44,116.32"/>
<path d="M336.3,52.9L339.2,55.8L336.3,58.7L333.4,55.8Z" fill="#f22020" fill-opacity="0.66"/>
<path d="M325.8,55.8L328.7,58.7L325.8,61.6L322.9,58.7Z" fill="#f22020" fill-opacity="0.66"/>
<path d="M324.4,60.2L327.3,63.1L324.4,66L321.5,63.1Z" fill="#f22020" fill-opacity="0.66"/>
<path d="M328.5,66.4L331.4,69.3L328.5,72.2L325.6,69.3Z" fill="#f22020" fill-opacity="0.66"/>
<path d="M330.2,59.1L333.1,62L330.2,64.9L327.3,62Z" fill="#f22020" fill-opacity="0.66"/>
<path d="M333.7,55.5L336.6,58.4L333.7,61.3L330.8,58.4Z" fill="#f22020" fill-opacity="0.66"/>
<path d="M332.5,59.6L335.4,62.5L332.5,65.4L329.6,62.5Z" fill="#f22020" fill-opacity="0.66"/>
<path d="M329,61.4L331.9,64.3L329,67.2L326.1,64.3Z" fill="#f22020" fill-opacity="0.66"/>
<path d="M328.2,57.3L331.1,60.2L328.2,63.1L325.3,60.2Z" fill="#f22020" fill-opacity="0.66"/>
<path d="M331.4,57.3L334.3,60.2L331.4,63.1L328.5,60.2Z" fill="#f22020" fill-opacity="0.66"/>
<path d="M335.5,56.7L338.4,59.6L335.5,62.5L332.6,59.6Z" fill="#f22020" fill-opacity="0.66"/>
<path d="M326.7,59.1L329.6,62L326.7,64.9L323.8,62Z" fill="#f22020" fill-opacity="0.66"/>
<path d="M330.8,60.8L333.7,63.7L330.8,66.6L327.9,63.7Z" fill="#f22020" fill-opacity="0.66"/>
<path d="M334.9,54.4L337.8,57.3L334.9,60.2L332,57.3Z" fill="#f22020" fill-opacity="0.66"/>
<path d="M329.5,58.1L332.4,61L329.5,63.9L326.6,61Z" fill="#f22020" fill-opacity="0.66"/>
<path d="M332,61.1L334.9,64L332,66.9L329.1,64Z" fill="#f22020" fill-opacity="0.66"/>
<polyline fill="none" stroke="#e8262b" stroke-width="0.9" points="331.5,53.7 331.54,53.99 331.6,54.29 331.68,54.58 331.78,54.87 331.92,55.16 332.09,55.46 332.31,55.75 332.59,56.04 332.93,56.33 333.34,56.63 333.83,56.92 334.41,57.21 335.08,57.51 335.84,57.8 336.69,58.09 337.63,58.38 338.64,58.68 339.7,58.97 340.8,59.26 341.92,59.55 343.01,59.85 344.06,60.14 345.03,60.43 345.89,60.73 346.61,61.02 347.16,61.31 347.52,61.6 347.69,61.9 347.65,62.19 347.4,62.48 346.96,62.77 346.34,63.07 345.57,63.36 344.66,63.65 343.66,63.95 342.59,64.24 341.48,64.53 340.37,64.82 339.28,65.12 338.23,65.41 337.25,65.7 336.35,65.99 335.53,66.29 334.81,66.58 334.17,66.87 333.63,67.17 333.17,67.46 332.78,67.75 332.47,68.04 332.22,68.34 332.02,68.63 331.86,68.92 331.74,69.21 331.65,69.51 331.58,69.8 331.52,70.09 331.49,70.39 331.46,70.68 331.44,70.97 331.43,71.26"/>
<text transform="translate(183.6,17.9) scale(1,1.03)" font-size="20.2" text-anchor="start" fill="#000" >b</text>
<rect x="462.5" y="4.4" width="217.10000000000002" height="197.9" fill="none" stroke="#7a7a7a" stroke-width="1"/>
<line x1="458.5" y1="202.3" x2="462.5" y2="202.3" stroke="#7a7a7a" stroke-width="1" />
<text transform="translate(455.5,206.1) scale(1,1.2)" font-size="9.8" text-anchor="end" fill="#222" >10</text>
<line x1="460.3" y1="193.3" x2="462.5" y2="193.3" stroke="#7a7a7a" stroke-width="1" />
<line x1="458.5" y1="184.3" x2="462.5" y2="184.3" stroke="#7a7a7a" stroke-width="1" />
<text transform="translate(455.5,188.1) scale(1,1.2)" font-size="9.8" text-anchor="end" fill="#222" >12</text>
<line x1="460.3" y1="175.3" x2="462.5" y2="175.3" stroke="#7a7a7a" stroke-width="1" />
<line x1="458.5" y1="166.3" x2="462.5" y2="166.3" stroke="#7a7a7a" stroke-width="1" />
<text transform="translate(455.5,170.1) scale(1,1.2)" font-size="9.8" text-anchor="end" fill="#222" >14</text>
<line x1="460.3" y1="157.3" x2="462.5" y2="157.3" stroke="#7a7a7a" stroke-width="1" />
<line x1="458.5" y1="148.3" x2="462.5" y2="148.3" stroke="#7a7a7a" stroke-width="1" />
<text transform="translate(455.5,152.1) scale(1,1.2)" font-size="9.8" text-anchor="end" fill="#222" >16</text>
<line x1="460.3" y1="139.3" x2="462.5" y2="139.3" stroke="#7a7a7a" stroke-width="1" />
<line x1="458.5" y1="130.3" x2="462.5" y2="130.3" stroke="#7a7a7a" stroke-width="1" />
<text transform="translate(455.5,134.1) scale(1,1.2)" font-size="9.8" text-anchor="end" fill="#222" >18</text>
<line x1="460.3" y1="121.3" x2="462.5" y2="121.3" stroke="#7a7a7a" stroke-width="1" />
<line x1="458.5" y1="112.3" x2="462.5" y2="112.3" stroke="#7a7a7a" stroke-width="1" />
<text transform="translate(455.5,116.1) scale(1,1.2)" font-size="9.8" text-anchor="end" fill="#222" >20</text>
<line x1="460.3" y1="103.3" x2="462.5" y2="103.3" stroke="#7a7a7a" stroke-width="1" />
<line x1="458.5" y1="94.3" x2="462.5" y2="94.3" stroke="#7a7a7a" stroke-width="1" />
<text transform="translate(455.5,98.1) scale(1,1.2)" font-size="9.8" text-anchor="end" fill="#222" >22</text>
<line x1="460.3" y1="85.3" x2="462.5" y2="85.3" stroke="#7a7a7a" stroke-width="1" />
<line x1="458.5" y1="76.3" x2="462.5" y2="76.3" stroke="#7a7a7a" stroke-width="1" />
<text transform="translate(455.5,80.1) scale(1,1.2)" font-size="9.8" text-anchor="end" fill="#222" >24</text>
<line x1="460.3" y1="67.3" x2="462.5" y2="67.3" stroke="#7a7a7a" stroke-width="1" />
<line x1="458.5" y1="58.3" x2="462.5" y2="58.3" stroke="#7a7a7a" stroke-width="1" />
<text transform="translate(455.5,62.1) scale(1,1.2)" font-size="9.8" text-anchor="end" fill="#222" >26</text>
<line x1="460.3" y1="49.3" x2="462.5" y2="49.3" stroke="#7a7a7a" stroke-width="1" />
<line x1="458.5" y1="40.3" x2="462.5" y2="40.3" stroke="#7a7a7a" stroke-width="1" />
<text transform="translate(455.5,44.1) scale(1,1.2)" font-size="9.8" text-anchor="end" fill="#222" >28</text>
<line x1="460.3" y1="31.3" x2="462.5" y2="31.3" stroke="#7a7a7a" stroke-width="1" />
<line x1="458.5" y1="22.3" x2="462.5" y2="22.3" stroke="#7a7a7a" stroke-width="1" />
<text transform="translate(455.5,26.1) scale(1,1.2)" font-size="9.8" text-anchor="end" fill="#222" >30</text>
<line x1="460.3" y1="13.3" x2="462.5" y2="13.3" stroke="#7a7a7a" stroke-width="1" />
<line x1="458.5" y1="4.3" x2="462.5" y2="4.3" stroke="#7a7a7a" stroke-width="1" />
<text transform="translate(455.5,8.1) scale(1,1.2)" font-size="9.8" text-anchor="end" fill="#222" >32</text>
<line x1="480.9" y1="202.3" x2="480.9" y2="205.9" stroke="#7a7a7a" stroke-width="1" />
<text transform="translate(480.9,216.6) scale(1,1.2)" font-size="9.8" text-anchor="middle" fill="#222" >2016</text>
<line x1="499.3" y1="202.3" x2="499.3" y2="204.1" stroke="#7a7a7a" stroke-width="1" />
<line x1="517.7" y1="202.3" x2="517.7" y2="205.9" stroke="#7a7a7a" stroke-width="1" />
<text transform="translate(517.7,216.6) scale(1,1.2)" font-size="9.8" text-anchor="middle" fill="#222" >2018</text>
<line x1="536.1" y1="202.3" x2="536.1" y2="204.1" stroke="#7a7a7a" stroke-width="1" />
<line x1="554.5" y1="202.3" x2="554.5" y2="205.9" stroke="#7a7a7a" stroke-width="1" />
<text transform="translate(554.5,216.6) scale(1,1.2)" font-size="9.8" text-anchor="middle" fill="#222" >2020</text>
<line x1="572.9" y1="202.3" x2="572.9" y2="204.1" stroke="#7a7a7a" stroke-width="1" />
<line x1="591.3" y1="202.3" x2="591.3" y2="205.9" stroke="#7a7a7a" stroke-width="1" />
<text transform="translate(591.3,216.6) scale(1,1.2)" font-size="9.8" text-anchor="middle" fill="#222" >2022</text>
<line x1="609.7" y1="202.3" x2="609.7" y2="204.1" stroke="#7a7a7a" stroke-width="1" />
<line x1="628.1" y1="202.3" x2="628.1" y2="205.9" stroke="#7a7a7a" stroke-width="1" />
<text transform="translate(628.1,216.6) scale(1,1.2)" font-size="9.8" text-anchor="middle" fill="#222" >2024</text>
<line x1="646.5" y1="202.3" x2="646.5" y2="204.1" stroke="#7a7a7a" stroke-width="1" />
<line x1="664.9" y1="202.3" x2="664.9" y2="205.9" stroke="#7a7a7a" stroke-width="1" />
<text transform="translate(664.9,216.6) scale(1,1.2)" font-size="9.8" text-anchor="middle" fill="#222" >2026</text>
<text transform="translate(440.4,110) rotate(-90) scale(1,1.0)" font-size="13.2" text-anchor="middle" fill="#111">PCE (%)</text>
<text x="571.3" y="232.5" font-size="13.5" text-anchor="middle" fill="#111" >Year</text>
<circle cx="474.9" cy="195.4" r="3.7" fill="#5d8dc1" fill-opacity="0.88"/>
<circle cx="494.3" cy="140.4" r="3.7" fill="#5d8dc1" fill-opacity="0.88"/>
<circle cx="506.3" cy="126.9" r="3.7" fill="#5d8dc1" fill-opacity="0.88"/>
<circle cx="528.7" cy="121.1" r="3.7" fill="#5d8dc1" fill-opacity="0.88"/>
<circle cx="531.4" cy="107.2" r="3.7" fill="#5d8dc1" fill-opacity="0.88"/>
<circle cx="548.8" cy="101.4" r="3.7" fill="#e8262b" fill-opacity="0.88"/>
<circle cx="542.2" cy="82.0" r="3.7" fill="#5d8dc1" fill-opacity="0.88"/>
<circle cx="549.6" cy="69.2" r="3.7" fill="#5d8dc1" fill-opacity="0.88"/>
<circle cx="569.3" cy="62.3" r="3.7" fill="#5d8dc1" fill-opacity="0.88"/>
<circle cx="575.9" cy="55.3" r="3.7" fill="#5d8dc1" fill-opacity="0.88"/>
<circle cx="596.4" cy="74.7" r="3.7" fill="#e8262b" fill-opacity="0.88"/>
<circle cx="600.7" cy="78.1" r="3.7" fill="#e8262b" fill-opacity="0.88"/>
<circle cx="608.1" cy="49.7" r="3.7" fill="#5d8dc1" fill-opacity="0.88"/>
<circle cx="612.4" cy="48.4" r="3.7" fill="#5d8dc1" fill-opacity="0.88"/>
<circle cx="611.5" cy="31.7" r="3.7" fill="#5d8dc1" fill-opacity="0.88"/>
<circle cx="637.4" cy="22.0" r="3.7" fill="#5d8dc1" fill-opacity="0.88"/>
<circle cx="661.8" cy="44.9" r="3.7" fill="#e8262b" fill-opacity="0.88"/>
<polygon points="661.5,57.9 662.85,61.94 667.11,61.98 663.69,64.51 664.97,68.57 661.5,66.1 658.03,68.57 659.31,64.51 655.89,61.98 660.15,61.94" fill="#e8262b"/>
<line x1="660.5" y1="80" x2="660.5" y2="71" stroke="#333" stroke-width="0.7" />
<path d="M660.5,69.6 L659.2,72.6 L661.8,72.6 Z" fill="#333"/>
<text transform="translate(617.3,16.5) scale(1,1.12)" font-size="9.2" text-anchor="start" fill="#1a1a1a" >NJU/Renshine</text>
<text transform="translate(570.9,28.2) scale(1,1.12)" font-size="9.2" text-anchor="start" fill="#1a1a1a" >NJU/Renshine</text>
<text transform="translate(621,39.4) scale(1,1.12)" font-size="9.2" text-anchor="start" fill="#1a1a1a" >NJU/Renshine</text>
<text transform="translate(590,54) scale(1,1.12)" font-size="9.2" text-anchor="start" fill="#1a1a1a" >UT</text>
<text transform="translate(620.3,51) scale(1,1.12)" font-size="9.2" text-anchor="start" fill="#1a1a1a" >NREL</text>
<text transform="translate(569,49.7) scale(1,1.12)" font-size="9.2" text-anchor="start" fill="#1a1a1a" >NJU</text>
<text transform="translate(549.6,60.6) scale(1,1.12)" font-size="9.2" text-anchor="start" fill="#1a1a1a" >NJU</text>
<text transform="translate(527.5,66.7) scale(1,1.12)" font-size="9.2" text-anchor="start" fill="#1a1a1a" >NJU</text>
<text transform="translate(473.4,83.8) scale(1,1.12)" font-size="9.2" text-anchor="start" fill="#1a1a1a" >NREL/U.Toledo</text>
<text transform="translate(574.7,74.1) scale(1,1.12)" font-size="9.2" text-anchor="start" fill="#1a1a1a" >NJU</text>
<text transform="translate(602.2,90.7) scale(1,1.12)" font-size="9.2" text-anchor="start" fill="#1a1a1a" >Empa</text>
<text transform="translate(638.6,89.9) scale(1,1.12)" font-size="9.2" text-anchor="start" fill="#1a1a1a" >This study</text>
<text transform="translate(646.3,101.9) scale(1,1.12)" font-size="9.2" text-anchor="start" fill="#1a1a1a" >25.4%</text>
<text transform="translate(554.6,105.4) scale(1,1.12)" font-size="9.2" text-anchor="start" fill="#1a1a1a" >NREL</text>
<text transform="translate(488.9,110.2) scale(1,1.12)" font-size="9.2" text-anchor="start" fill="#1a1a1a" >U.Toledo</text>
<text transform="translate(513.6,133.4) scale(1,1.12)" font-size="9.2" text-anchor="start" fill="#1a1a1a" >Stanford</text>
<text transform="translate(486.5,129.8) scale(1,1.12)" font-size="9.2" text-anchor="start" fill="#1a1a1a" >UW</text>
<text transform="translate(462.6,152.6) scale(1,1.12)" font-size="9.2" text-anchor="start" fill="#1a1a1a" >Oxford/Stanford</text>
<text transform="translate(481.9,198.7) scale(1,1.12)" font-size="9.2" text-anchor="start" fill="#1a1a1a" >KHU</text>
<text transform="translate(635.6,181.8) scale(1,1.06)" font-size="11.5" text-anchor="start" fill="#4a76ab" >Rigid</text>
<text transform="translate(635.6,196.6) scale(1,1.06)" font-size="11.5" text-anchor="start" fill="#e8262b" >Flexible</text>
<text transform="translate(428.2,17.9) scale(1,1.03)" font-size="20.2" text-anchor="start" fill="#000" >c</text>
<rect x="22.3" y="243.4" width="150.3" height="13.4" fill="#e8972c" />
<rect x="22.3" y="256.6" width="150.3" height="13.3" fill="#b9b9b9" />
<rect x="22.3" y="269.7" width="150.3" height="13.2" fill="#7634a8" />
<rect x="22.3" y="282.7" width="150.3" height="26.7" fill="#3d3d3d" />
<rect x="22.3" y="309.2" width="150.3" height="13.2" fill="#a9e26e" />
<rect x="22.3" y="322.2" width="150.3" height="13.3" fill="#ebe256" />
<rect x="22.3" y="335.3" width="150.3" height="13.2" fill="#b9b9b9" />
<rect x="22.3" y="348.3" width="150.3" height="13.3" fill="#7634a8" />
<rect x="22.3" y="361.4" width="150.3" height="23.7" fill="#d8374a" />
<rect x="22.3" y="384.9" width="150.3" height="12.7" fill="#3fc45e" />
<rect x="13.7" y="397.4" width="158.9" height="13.4" fill="#5fd3e8" />
<rect x="106" y="397.4" width="4" height="13.4" fill="#3fc45e" />
<rect x="13.7" y="410.8" width="158.9" height="13.3" fill="#8c8c8c" />
<rect x="123.4" y="243.4" width="19.4" height="154" fill="#e8972c" />
<rect x="130.1" y="243" width="6.1" height="145.9" fill="#ffffff" />
<rect x="151.9" y="243.4" width="7.3" height="154" fill="#ffffff" />
<text transform="translate(26.2,252.8) scale(1,1.18)" font-size="7.8" text-anchor="start" fill="#fff" >Cu</text>
<text transform="translate(26.2,265.95) scale(1,1.18)" font-size="7.8" text-anchor="start" fill="#fff" >ALD SnO<tspan font-size="5.5" dy="2">2</tspan></text>
<text transform="translate(26.2,279) scale(1,1.18)" font-size="7.8" text-anchor="start" fill="#fff" >C<tspan font-size="5.5" dy="2">60</tspan></text>
<text transform="translate(26.2,298.75) scale(1,1.18)" font-size="7.8" text-anchor="start" fill="#fff" >NBG perovskite</text>
<text transform="translate(26.2,318.5) scale(1,1.18)" font-size="7.8" text-anchor="start" fill="#222" >PEDOT:PSS</text>
<text transform="translate(26.2,331.55) scale(1,1.18)" font-size="7.8" text-anchor="start" fill="#222" >Au cluster</text>
<text transform="translate(26.2,344.6) scale(1,1.18)" font-size="7.8" text-anchor="start" fill="#fff" >ALD SnO<tspan font-size="5.5" dy="2">2</tspan></text>
<text transform="translate(26.2,357.65) scale(1,1.18)" font-size="7.8" text-anchor="start" fill="#fff" >C<tspan font-size="5.5" dy="2">60</tspan></text>
<text transform="translate(26.2,375.95) scale(1,1.18)" font-size="7.8" text-anchor="start" fill="#fff" >WBG perovskite</text>
<text transform="translate(26.2,393.95) scale(1,1.18)" font-size="7.8" text-anchor="start" fill="#fff" >4PADCB</text>
<text transform="translate(26.2,406.9) scale(1,1.18)" font-size="7.8" text-anchor="start" fill="#fff" >ITO</text>
<text transform="translate(26.2,420.2) scale(1,1.18)" font-size="7.8" text-anchor="start" fill="#fff" >PEN</text>
<text transform="translate(110,434.6) scale(1,1.18)" font-size="7.8" text-anchor="middle" fill="#222" >P1</text>
<text transform="translate(131.8,434.6) scale(1,1.18)" font-size="7.8" text-anchor="middle" fill="#222" >P2</text>
<text transform="translate(151.2,434.6) scale(1,1.18)" font-size="7.8" text-anchor="middle" fill="#222" >P3</text>
<text transform="translate(0,248.9) scale(1,1.03)" font-size="20.2" text-anchor="start" fill="#000" >d</text>
<defs><filter id="enoise" x="0" y="0" width="100%" height="100%"><feTurbulence type="fractalNoise" baseFrequency="0.7" numOctaves="2" seed="5"/><feColorMatrix type="matrix" values="0 0 0 0 0.98  0 0 0 0 0.75  0 0 0 0 0.3  0 0 0 1.1 -0.45"/></filter><filter id="enoise2" x="0" y="0" width="100%" height="100%"><feTurbulence type="fractalNoise" baseFrequency="0.6" numOctaves="2" seed="9"/><feColorMatrix type="matrix" values="0 0 0 0 0.55  0 0 0 0 0.33  0 0 0 0 0.1  0 0 0 1.1 -0.5"/></filter><filter id="eblur"><feGaussianBlur stdDeviation="0.55"/></filter><filter id="eblur2"><feGaussianBlur stdDeviation="1.2"/></filter><clipPath id="eclip"><rect x="213.5" y="251.0" width="193.7" height="169.3"/></clipPath><linearGradient id="ebg" x1="0" y1="0" x2="1" y2="0"><stop offset="0" stop-color="#dc9c44"/><stop offset="0.15" stop-color="#d9973c"/><stop offset="0.5" stop-color="#d8953a"/><stop offset="0.88" stop-color="#da983e"/><stop offset="0.95" stop-color="#dd984e"/><stop offset="1" stop-color="#e09a5c"/></linearGradient></defs>
<g clip-path="url(#eclip)">
<rect x="213.5" y="251" width="193.7" height="169.3" fill="url(#ebg)" />
<g filter="url(#eblur2)">
<path d="M293.5,251 L320,251 L321,300 L319.5,350 L321,420.3 L293,420.3 L294,360 L292.5,300 Z" fill="#e9c660"/>
<path d="M298,251 L312.5,251 L313.5,300 L312,350 L313.5,420.3 L298.5,420.3 L299,360 L297.5,300 Z" fill="#f3df7c"/>
</g>
<g filter="url(#eblur)">
<path d="M315.2,251 L315.8,300 L314.6,350 L315.6,420.3" stroke="#9a7a3a" stroke-width="0.7" fill="none" opacity="0.8"/>
<ellipse cx="296.5" cy="258" rx="0.5" ry="1.6" fill="#6a5a30" opacity="0.8"/>
<ellipse cx="297.1" cy="271.5" rx="0.5" ry="1.6" fill="#6a5a30" opacity="0.8"/>
<ellipse cx="297.7" cy="285" rx="0.5" ry="1.6" fill="#6a5a30" opacity="0.8"/>
<ellipse cx="296.5" cy="293.5" rx="0.5" ry="1.6" fill="#6a5a30" opacity="0.8"/>
<ellipse cx="297.1" cy="307" rx="0.5" ry="1.6" fill="#6a5a30" opacity="0.8"/>
<ellipse cx="297.7" cy="315.5" rx="0.5" ry="1.6" fill="#6a5a30" opacity="0.8"/>
<ellipse cx="296.5" cy="329" rx="0.5" ry="1.6" fill="#6a5a30" opacity="0.8"/>
<ellipse cx="297.1" cy="342.5" rx="0.5" ry="1.6" fill="#6a5a30" opacity="0.8"/>
<ellipse cx="297.7" cy="351" rx="0.5" ry="1.6" fill="#6a5a30" opacity="0.8"/>
<ellipse cx="296.5" cy="364.5" rx="0.5" ry="1.6" fill="#6a5a30" opacity="0.8"/>
<ellipse cx="297.1" cy="373" rx="0.5" ry="1.6" fill="#6a5a30" opacity="0.8"/>
<ellipse cx="297.7" cy="386.5" rx="0.5" ry="1.6" fill="#6a5a30" opacity="0.8"/>
<ellipse cx="296.5" cy="400" rx="0.5" ry="1.6" fill="#6a5a30" opacity="0.8"/>
<ellipse cx="297.1" cy="408.5" rx="0.5" ry="1.6" fill="#6a5a30" opacity="0.8"/>
<rect x="241" y="251" width="12.6" height="169.3" fill="#c48a3e" />
<rect x="243.6" y="250" width="6.4" height="4.0" rx="1.6" fill="#e6c850" stroke="#a8603a" stroke-width="0.9"/>
<rect x="244.6" y="255.55" width="6.4" height="4.0" rx="1.6" fill="#e6c850" stroke="#a8603a" stroke-width="0.9"/>
<rect x="243.6" y="261.1" width="6.4" height="4.0" rx="1.6" fill="#e6c850" stroke="#a8603a" stroke-width="0.9"/>
<rect x="244.6" y="266.65" width="6.4" height="4.0" rx="1.6" fill="#e6c850" stroke="#a8603a" stroke-width="0.9"/>
<rect x="243.6" y="272.2" width="6.4" height="4.0" rx="1.6" fill="#e6c850" stroke="#a8603a" stroke-width="0.9"/>
<rect x="244.6" y="277.75" width="6.4" height="4.0" rx="1.6" fill="#e6c850" stroke="#a8603a" stroke-width="0.9"/>
<rect x="243.6" y="283.3" width="6.4" height="4.0" rx="1.6" fill="#e6c850" stroke="#a8603a" stroke-width="0.9"/>
<rect x="244.6" y="288.85" width="6.4" height="4.0" rx="1.6" fill="#e6c850" stroke="#a8603a" stroke-width="0.9"/>
<rect x="243.6" y="294.4" width="6.4" height="4.0" rx="1.6" fill="#e6c850" stroke="#a8603a" stroke-width="0.9"/>
<rect x="244.6" y="299.95" width="6.4" height="4.0" rx="1.6" fill="#e6c850" stroke="#a8603a" stroke-width="0.9"/>
<rect x="243.6" y="305.5" width="6.4" height="4.0" rx="1.6" fill="#e6c850" stroke="#a8603a" stroke-width="0.9"/>
<rect x="244.6" y="311.05" width="6.4" height="4.0" rx="1.6" fill="#e6c850" stroke="#a8603a" stroke-width="0.9"/>
<rect x="243.6" y="316.6" width="6.4" height="4.0" rx="1.6" fill="#e6c850" stroke="#a8603a" stroke-width="0.9"/>
<rect x="244.6" y="322.15" width="6.4" height="4.0" rx="1.6" fill="#e6c850" stroke="#a8603a" stroke-width="0.9"/>
<rect x="243.6" y="327.7" width="6.4" height="4.0" rx="1.6" fill="#e6c850" stroke="#a8603a" stroke-width="0.9"/>
<rect x="244.6" y="333.25" width="6.4" height="4.0" rx="1.6" fill="#e6c850" stroke="#a8603a" stroke-width="0.9"/>
<rect x="243.6" y="338.8" width="6.4" height="4.0" rx="1.6" fill="#e6c850" stroke="#a8603a" stroke-width="0.9"/>
<rect x="244.6" y="344.35" width="6.4" height="4.0" rx="1.6" fill="#e6c850" stroke="#a8603a" stroke-width="0.9"/>
<rect x="243.6" y="349.9" width="6.4" height="4.0" rx="1.6" fill="#e6c850" stroke="#a8603a" stroke-width="0.9"/>
<rect x="244.6" y="355.45" width="6.4" height="4.0" rx="1.6" fill="#e6c850" stroke="#a8603a" stroke-width="0.9"/>
<rect x="243.6" y="361" width="6.4" height="4.0" rx="1.6" fill="#e6c850" stroke="#a8603a" stroke-width="0.9"/>
<rect x="244.6" y="366.55" width="6.4" height="4.0" rx="1.6" fill="#e6c850" stroke="#a8603a" stroke-width="0.9"/>
<rect x="243.6" y="372.1" width="6.4" height="4.0" rx="1.6" fill="#e6c850" stroke="#a8603a" stroke-width="0.9"/>
<rect x="244.6" y="377.65" width="6.4" height="4.0" rx="1.6" fill="#e6c850" stroke="#a8603a" stroke-width="0.9"/>
<rect x="243.6" y="383.2" width="6.4" height="4.0" rx="1.6" fill="#e6c850" stroke="#a8603a" stroke-width="0.9"/>
<rect x="244.6" y="388.75" width="6.4" height="4.0" rx="1.6" fill="#e6c850" stroke="#a8603a" stroke-width="0.9"/>
<rect x="243.6" y="394.3" width="6.4" height="4.0" rx="1.6" fill="#e6c850" stroke="#a8603a" stroke-width="0.9"/>
<rect x="244.6" y="399.85" width="6.4" height="4.0" rx="1.6" fill="#e6c850" stroke="#a8603a" stroke-width="0.9"/>
<rect x="243.6" y="405.4" width="6.4" height="4.0" rx="1.6" fill="#e6c850" stroke="#a8603a" stroke-width="0.9"/>
<rect x="244.6" y="410.95" width="6.4" height="4.0" rx="1.6" fill="#e6c850" stroke="#a8603a" stroke-width="0.9"/>
<rect x="243.6" y="416.5" width="6.4" height="4.0" rx="1.6" fill="#e6c850" stroke="#a8603a" stroke-width="0.9"/>
<path d="M241.6,251 C240.6,270 242.6,290 241.2,310 C240.4,330 242.4,350 241.0,370 C240.4,390 242.2,405 241.4,421" stroke="#9a6034" stroke-width="0.9" fill="none"/>
<path d="M253.0,251 C254.2,270 252.2,290 253.6,310 C254.4,330 252.4,350 253.8,370 C254.4,390 252.6,405 253.4,421" stroke="#9a6034" stroke-width="0.9" fill="none"/>
<path d="M370.9,251 L385.5,251 L381.66,421 L367.06,421 Z" fill="#64503e"/>
<path d="M385.9,251 L389.3,251 L385.46,421 L382.06,421 Z" fill="#e2b050" opacity="0.6"/>
<ellipse cx="377.87" cy="252.5" rx="4.6" ry="2.9" fill="#b4b45a"/>
<ellipse cx="378.13" cy="258.5" rx="4.6" ry="2.9" fill="#b4b45a"/>
<ellipse cx="378.39" cy="264.5" rx="4.6" ry="2.9" fill="#b4b45a"/>
<ellipse cx="377.46" cy="270.5" rx="4.6" ry="2.9" fill="#b4b45a"/>
<ellipse cx="377.72" cy="276.5" rx="4.6" ry="2.9" fill="#b4b45a"/>
<ellipse cx="377.99" cy="282.5" rx="4.6" ry="2.9" fill="#b4b45a"/>
<ellipse cx="377.05" cy="288.5" rx="4.6" ry="2.9" fill="#b4b45a"/>
<ellipse cx="377.32" cy="294.5" rx="4.6" ry="2.9" fill="#b4b45a"/>
<ellipse cx="377.58" cy="300.5" rx="4.6" ry="2.9" fill="#b4b45a"/>
<ellipse cx="376.65" cy="306.5" rx="4.6" ry="2.9" fill="#b4b45a"/>
<ellipse cx="376.91" cy="312.5" rx="4.6" ry="2.9" fill="#b4b45a"/>
<ellipse cx="377.17" cy="318.5" rx="4.6" ry="2.9" fill="#b4b45a"/>
<ellipse cx="376.24" cy="324.5" rx="4.6" ry="2.9" fill="#b4b45a"/>
<ellipse cx="376.5" cy="330.5" rx="4.6" ry="2.9" fill="#b4b45a"/>
<ellipse cx="376.77" cy="336.5" rx="4.6" ry="2.9" fill="#b4b45a"/>
<ellipse cx="375.83" cy="342.5" rx="4.6" ry="2.9" fill="#b4b45a"/>
<ellipse cx="376.1" cy="348.5" rx="4.6" ry="2.9" fill="#b4b45a"/>
<ellipse cx="376.36" cy="354.5" rx="4.6" ry="2.9" fill="#b4b45a"/>
<ellipse cx="375.43" cy="360.5" rx="4.6" ry="2.9" fill="#b4b45a"/>
<ellipse cx="375.69" cy="366.5" rx="4.6" ry="2.9" fill="#b4b45a"/>
<ellipse cx="375.95" cy="372.5" rx="4.6" ry="2.9" fill="#b4b45a"/>
<ellipse cx="375.02" cy="378.5" rx="4.6" ry="2.9" fill="#b4b45a"/>
<ellipse cx="375.28" cy="384.5" rx="4.6" ry="2.9" fill="#b4b45a"/>
<ellipse cx="375.55" cy="390.5" rx="4.6" ry="2.9" fill="#b4b45a"/>
<ellipse cx="374.61" cy="396.5" rx="4.6" ry="2.9" fill="#b4b45a"/>
<ellipse cx="374.88" cy="402.5" rx="4.6" ry="2.9" fill="#b4b45a"/>
<ellipse cx="375.14" cy="408.5" rx="4.6" ry="2.9" fill="#b4b45a"/>
<ellipse cx="374.2" cy="414.5" rx="4.6" ry="2.9" fill="#b4b45a"/>
<ellipse cx="374.47" cy="420.5" rx="4.6" ry="2.9" fill="#b4b45a"/>
</g>
<rect x="213.5" y="251.0" width="193.7" height="169.3" filter="url(#enoise)" opacity="0.5"/>
<rect x="213.5" y="251.0" width="193.7" height="169.3" filter="url(#enoise2)" opacity="0.3"/>
</g>
<text transform="translate(234.6,275.9) scale(1,1.1)" font-size="18.4" text-anchor="start" fill="#fff" >P1</text>
<text transform="translate(293.6,275.9) scale(1,1.1)" font-size="18.4" text-anchor="start" fill="#fff" >P2</text>
<text transform="translate(368.4,275.9) scale(1,1.1)" font-size="18.4" text-anchor="start" fill="#fff" >P3</text>
<text x="374" y="406.2" font-size="14.5" text-anchor="middle" fill="#fff" >200 µm</text>
<rect x="351.7" y="412.2" width="43.8" height="1.8" fill="#fff" />
<text transform="translate(197.6,249.6) scale(1,1.03)" font-size="20.2" text-anchor="start" fill="#000" >e</text>
<line x1="465" y1="266.14" x2="679" y2="266.14" stroke="#a8a8a8" stroke-width="0.9" />
<line x1="467.8" y1="251.5" x2="596" y2="251.5" stroke="#555" stroke-width="0.9" />
<line x1="467.8" y1="266.2" x2="596" y2="266.2" stroke="#666" stroke-width="0.9" />
<line x1="467.8" y1="337.2" x2="596" y2="337.2" stroke="#555" stroke-width="0.9" />
<text transform="translate(537.7,261.9) scale(1,1.18)" font-size="8.7" text-anchor="start" fill="#2a2a2a" >Reverse scan</text>
<text transform="translate(471.2,276.4) scale(1,1.18)" font-size="8.7" text-anchor="start" fill="#2a2a2a" >FF</text>
<text transform="translate(537.7,276.4) scale(1,1.18)" font-size="8.7" text-anchor="start" fill="#2a2a2a" >75%</text>
<text transform="translate(471.2,290.6) scale(1,1.18)" font-size="8.7" text-anchor="start" fill="#2a2a2a" >PCE</text>
<text transform="translate(537.7,290.6) scale(1,1.18)" font-size="8.7" text-anchor="start" fill="#2a2a2a" >19.7%</text>
<text transform="translate(471.2,304.8) scale(1,1.18)" font-size="8.7" text-anchor="start" fill="#2a2a2a" ><tspan font-style="italic">J</tspan><tspan font-size="6" dy="2">SC</tspan><tspan dy="-2"> per cell</tspan></text>
<text transform="translate(537.7,304.8) scale(1,1.18)" font-size="8.7" text-anchor="start" fill="#2a2a2a" >12.6 mA cm<tspan font-size="5.5" dy="-3.5">-2</tspan></text>
<text transform="translate(471.2,319) scale(1,1.18)" font-size="8.7" text-anchor="start" fill="#2a2a2a" ><tspan font-style="italic">V</tspan><tspan font-size="6" dy="2">OC</tspan><tspan dy="-2"> per cell</tspan></text>
<text transform="translate(537.7,319) scale(1,1.18)" font-size="8.7" text-anchor="start" fill="#2a2a2a" >2.085 V</text>
<text transform="translate(471.2,333.2) scale(1,1.18)" font-size="8.7" text-anchor="start" fill="#2a2a2a" >GFF</text>
<text transform="translate(537.7,333.2) scale(1,1.18)" font-size="8.7" text-anchor="start" fill="#2a2a2a" >~83%</text>
<defs><filter id="fblur" x="-20%" y="-20%" width="140%" height="140%"><feGaussianBlur stdDeviation="1.6"/></filter><filter id="fblur2"><feGaussianBlur stdDeviation="0.5"/></filter></defs>
<g filter="url(#fblur)">
<rect x="616.5" y="341.5" width="59" height="58" rx="4" fill="#1c2638"/>
<path d="M616,341 L640,341 L622,362 L616,362 Z" fill="#4fc8ea"/>
<path d="M676,381 L676,400 L648,400 Z" fill="#56d0ee"/>
</g>
<defs><linearGradient id="fnavy" x1="0" y1="0" x2="1" y2="1"><stop offset="0" stop-color="#283258"/><stop offset="0.6" stop-color="#262e56"/><stop offset="1" stop-color="#2e3862"/></linearGradient><linearGradient id="fstripe" x1="0" y1="0" x2="1" y2="0"><stop offset="0" stop-color="#e2ae98"/><stop offset="0.2" stop-color="#d8a090"/><stop offset="0.25" stop-color="#8a7a90"/><stop offset="0.3" stop-color="#d89088"/><stop offset="0.7" stop-color="#d68a8a"/><stop offset="0.76" stop-color="#8a6a88"/><stop offset="0.8" stop-color="#dc9a80"/><stop offset="1" stop-color="#c88a80"/></linearGradient><filter id="fblur3"><feGaussianBlur stdDeviation="0.7"/></filter></defs>
<g filter="url(#fblur3)">
<path d="M620.5,348.5 L671.5,348 L671,393.5 L620.5,394 Z" fill="url(#fnavy)"/>
<path d="M620.5,350.5 L640,349.5 Q644,351 640,355 L623,372 L620.5,372.5 Z" fill="#3e9e9c"/>
<path d="M632,356.2 L660,356.2 L672,356.6 L672,358 L632,357.6 Z" fill="#a6abc8"/>
<rect x="660" y="355.6" width="12" height="2.2" fill="#d4d8e8" />
<rect x="628" y="368" width="43" height="0.9" fill="#7a6488" />
<rect x="621" y="376.3" width="50" height="1" fill="#9a80a0" />
<rect x="620.8" y="384.2" width="50" height="6.4" fill="url(#fstripe)" />
<rect x="650" y="360" width="20" height="30" fill="#5a6a98" opacity="0.15"/>
<path d="M676.5,383 L676.5,400.5 L650,400.5 Z" fill="#5ad0ee"/>
</g>
<clipPath id="fclip"><rect x="465.0" y="243.4" width="214.0" height="159.20000000000002"/></clipPath>
<path d="M465,361.67 L465.61,361.65 L466.22,361.63 L466.83,361.61 L467.45,361.58 L468.06,361.56 L468.67,361.54 L469.28,361.52 L469.89,361.5 L470.5,361.48 L471.11,361.46 L471.73,361.44 L472.34,361.42 L472.95,361.4 L473.56,361.38 L474.17,361.36 L474.78,361.34 L475.39,361.32 L476.01,361.3 L476.62,361.28 L477.23,361.26 L477.84,361.23 L478.45,361.21 L479.06,361.19 L479.67,361.17 L480.29,361.15 L480.9,361.13 L481.51,361.11 L482.12,361.09 L482.73,361.07 L483.34,361.05 L483.95,361.03 L484.57,361.01 L485.18,360.99 L485.79,360.97 L486.4,360.95 L487.01,360.93 L487.62,360.91 L488.23,360.89 L488.85,360.86 L489.46,360.84 L490.07,360.82 L490.68,360.8 L491.29,360.78 L491.9,360.76 L492.51,360.74 L493.13,360.72 L493.74,360.7 L494.35,360.68 L494.96,360.66 L495.57,360.64 L496.18,360.62 L496.79,360.6 L497.41,360.58 L498.02,360.56 L498.63,360.54 L499.24,360.51 L499.85,360.49 L500.46,360.47 L501.07,360.45 L501.69,360.43 L502.3,360.41 L502.91,360.39 L503.52,360.37 L504.13,360.35 L504.74,360.33 L505.35,360.31 L505.97,360.29 L506.58,360.27 L507.19,360.25 L507.8,360.23 L508.41,360.21 L509.02,360.19 L509.63,360.17 L510.25,360.14 L510.86,360.12 L511.47,360.1 L512.08,360.08 L512.69,360.06 L513.3,360.04 L513.91,360.02 L514.53,360 L515.14,359.98 L515.75,359.96 L516.36,359.94 L516.97,359.92 L517.58,359.9 L518.19,359.88 L518.81,359.86 L519.42,359.84 L520.03,359.82 L520.64,359.79 L521.25,359.77 L521.86,359.75 L522.47,359.73 L523.09,359.71 L523.7,359.69 L524.31,359.67 L524.92,359.65 L525.53,359.63 L526.14,359.61 L526.75,359.59 L527.37,359.57 L527.98,359.55 L528.59,359.53 L529.2,359.51 L529.81,359.49 L530.42,359.47 L531.03,359.44 L531.65,359.42 L532.26,359.4 L532.87,359.38 L533.48,359.36 L534.09,359.34 L534.7,359.32 L535.31,359.3 L535.93,359.28 L536.54,359.26 L537.15,359.24 L537.76,359.22 L538.37,359.2 L538.98,359.18 L539.59,359.16 L540.21,359.14 L540.82,359.11 L541.43,359.09 L542.04,359.07 L542.65,359.05 L543.26,359.03 L543.87,359.01 L544.49,358.99 L545.1,358.97 L545.71,358.95 L546.32,358.93 L546.93,358.91 L547.54,358.89 L548.15,358.87 L548.77,358.85 L549.38,358.82 L549.99,358.8 L550.6,358.78 L551.21,358.76 L551.82,358.74 L552.43,358.72 L553.05,358.7 L553.66,358.68 L554.27,358.66 L554.88,358.64 L555.49,358.62 L556.1,358.59 L556.71,358.57 L557.33,358.55 L557.94,358.53 L558.55,358.51 L559.16,358.49 L559.77,358.47 L560.38,358.45 L560.99,358.43 L561.61,358.4 L562.22,358.38 L562.83,358.36 L563.44,358.34 L564.05,358.32 L564.66,358.3 L565.27,358.28 L565.89,358.25 L566.5,358.23 L567.11,358.21 L567.72,358.19 L568.33,358.17 L568.94,358.14 L569.55,358.12 L570.17,358.1 L570.78,358.08 L571.39,358.05 L572,358.03 L572.61,358.01 L573.22,357.99 L573.83,357.96 L574.45,357.94 L575.06,357.92 L575.67,357.89 L576.28,357.87 L576.89,357.85 L577.5,357.82 L578.11,357.8 L578.73,357.77 L579.34,357.75 L579.95,357.72 L580.56,357.7 L581.17,357.67 L581.78,357.64 L582.39,357.62 L583.01,357.59 L583.62,357.56 L584.23,357.53 L584.84,357.51 L585.45,357.48 L586.06,357.45 L586.67,357.42 L587.29,357.39 L587.9,357.36 L588.51,357.33 L589.12,357.29 L589.73,357.26 L590.34,357.23 L590.95,357.19 L591.57,357.16 L592.18,357.12 L592.79,357.08 L593.4,357.04 L594.01,357 L594.62,356.96 L595.23,356.92 L595.85,356.87 L596.46,356.83 L597.07,356.78 L597.68,356.73 L598.29,356.68 L598.9,356.63 L599.51,356.58 L600.13,356.52 L600.74,356.46 L601.35,356.4 L601.96,356.33 L602.57,356.27 L603.18,356.2 L603.79,356.13 L604.41,356.05 L605.02,355.97 L605.63,355.89 L606.24,355.8 L606.85,355.71 L607.46,355.61 L608.07,355.51 L608.69,355.41 L609.3,355.3 L609.91,355.18 L610.52,355.06 L611.13,354.93 L611.74,354.8 L612.35,354.66 L612.97,354.51 L613.58,354.35 L614.19,354.18 L614.8,354.01 L615.41,353.82 L616.02,353.63 L616.63,353.42 L617.25,353.21 L617.86,352.98 L618.47,352.74 L619.08,352.48 L619.69,352.22 L620.3,351.93 L620.91,351.64 L621.53,351.32 L622.14,350.99 L622.75,350.64 L623.36,350.27 L623.97,349.88 L624.58,349.47 L625.19,349.04 L625.81,348.58 L626.42,348.1 L627.03,347.59 L627.64,347.05 L628.25,346.49 L628.86,345.9 L629.47,345.27 L630.09,344.62 L630.7,343.92 L631.31,343.2 L631.92,342.43 L632.53,341.63 L633.14,340.79 L633.75,339.9 L634.37,338.98 L634.98,338.01 L635.59,336.99 L636.2,335.92 L636.81,334.8 L637.42,333.64 L638.03,332.42 L638.65,331.14 L639.26,329.81 L639.87,328.43 L640.48,326.98 L641.09,325.47 L641.7,323.91 L642.31,322.28 L642.93,320.58 L643.54,318.82 L644.15,317 L644.76,315.11 L645.37,313.15 L645.98,311.12 L646.59,309.02 L647.21,306.85 L647.82,304.61 L648.43,302.3 L649.04,299.92 L649.65,297.46 L650.26,294.93 L650.87,292.33 L651.49,289.66 L652.1,286.92 L652.71,284.1 L653.32,281.21 L653.93,278.24 L654.54,275.21 L655.15,272.1 L655.77,268.93 L656.38,265.68 L656.99,262.36 L657.6,258.98 L658.21,255.52 L658.82,252 L659.43,248.41 L660.05,244.76 L660.66,241.03 L661.27,237.25 L661.88,233.4 L662.49,229.49 L663.1,225.51 L663.71,221.48" fill="none" stroke="#e82228" stroke-width="5.8" clip-path="url(#fclip)" stroke-linecap="round"/>
<g clip-path="url(#fclip)"><circle cx="465" cy="361.67" r="2.1" fill="none" stroke="#f26a72" stroke-width="0.5" opacity="0.35"/><circle cx="466.22" cy="361.63" r="2.1" fill="none" stroke="#f26a72" stroke-width="0.5" opacity="0.35"/><circle cx="467.45" cy="361.58" r="2.1" fill="none" stroke="#f26a72" stroke-width="0.5" opacity="0.35"/><circle cx="468.67" cy="361.54" r="2.1" fill="none" stroke="#f26a72" stroke-width="0.5" opacity="0.35"/><circle cx="469.89" cy="361.5" r="2.1" fill="none" stroke="#f26a72" stroke-width="0.5" opacity="0.35"/><circle cx="471.11" cy="361.46" r="2.1" fill="none" stroke="#f26a72" stroke-width="0.5" opacity="0.35"/><circle cx="472.34" cy="361.42" r="2.1" fill="none" stroke="#f26a72" stroke-width="0.5" opacity="0.35"/><circle cx="473.56" cy="361.38" r="2.1" fill="none" stroke="#f26a72" stroke-width="0.5" opacity="0.35"/><circle cx="474.78" cy="361.34" r="2.1" fill="none" stroke="#f26a72" stroke-width="0.5" opacity="0.35"/><circle cx="476.01" cy="361.3" r="2.1" fill="none" stroke="#f26a72" stroke-width="0.5" opacity="0.35"/><circle cx="477.23" cy="361.26" r="2.1" fill="none" stroke="#f26a72" stroke-width="0.5" opacity="0.35"/><circle cx="478.45" cy="361.21" r="2.1" fill="none" stroke="#f26a72" stroke-width="0.5" opacity="0.35"/><circle cx="479.67" cy="361.17" r="2.1" fill="none" stroke="#f26a72" stroke-width="0.5" opacity="0.35"/><circle cx="480.9" cy="361.13" r="2.1" fill="none" stroke="#f26a72" stroke-width="0.5" opacity="0.35"/><circle cx="482.12" cy="361.09" r="2.1" fill="none" stroke="#f26a72" stroke-width="0.5" opacity="0.35"/><circle cx="483.34" cy="361.05" r="2.1" fill="none" stroke="#f26a72" stroke-width="0.5" opacity="0.35"/><circle cx="484.57" cy="361.01" r="2.1" fill="none" stroke="#f26a72" stroke-width="0.5" opacity="0.35"/><circle cx="485.79" cy="360.97" r="2.1" fill="none" stroke="#f26a72" stroke-width="0.5" opacity="0.35"/><circle cx="487.01" cy="360.93" r="2.1" fill="none" stroke="#f26a72" stroke-width="0.5" opacity="0.35"/><circle cx="488.23" cy="360.89" r="2.1" fill="none" stroke="#f26a72" stroke-width="0.5" opacity="0.35"/><circle cx="489.46" cy="360.84" r="2.1" fill="none" stroke="#f26a72" stroke-width="0.5" opacity="0.35"/><circle cx="490.68" cy="360.8" r="2.1" fill="none" stroke="#f26a72" stroke-width="0.5" opacity="0.35"/><circle cx="491.9" cy="360.76" r="2.1" fill="none" stroke="#f26a72" stroke-width="0.5" opacity="0.35"/><circle cx="493.13" cy="360.72" r="2.1" fill="none" stroke="#f26a72" stroke-width="0.5" opacity="0.35"/><circle cx="494.35" cy="360.68" r="2.1" fill="none" stroke="#f26a72" stroke-width="0.5" opacity="0.35"/><circle cx="495.57" cy="360.64" r="2.1" fill="none" stroke="#f26a72" stroke-width="0.5" opacity="0.35"/><circle cx="496.79" cy="360.6" r="2.1" fill="none" stroke="#f26a72" stroke-width="0.5" opacity="0.35"/><circle cx="498.02" cy="360.56" r="2.1" fill="none" stroke="#f26a72" stroke-width="0.5" opacity="0.35"/><circle cx="499.24" cy="360.51" r="2.1" fill="none" stroke="#f26a72" stroke-width="0.5" opacity="0.35"/><circle cx="500.46" cy="360.47" r="2.1" fill="none" stroke="#f26a72" stroke-width="0.5" opacity="0.35"/><circle cx="501.69" cy="360.43" r="2.1" fill="none" stroke="#f26a72" stroke-width="0.5" opacity="0.35"/><circle cx="502.91" cy="360.39" r="2.1" fill="none" stroke="#f26a72" stroke-width="0.5" opacity="0.35"/><circle cx="504.13" cy="360.35" r="2.1" fill="none" stroke="#f26a72" stroke-width="0.5" opacity="0.35"/><circle cx="505.35" cy="360.31" r="2.1" fill="none" stroke="#f26a72" stroke-width="0.5" opacity="0.35"/><circle cx="506.58" cy="360.27" r="2.1" fill="none" stroke="#f26a72" stroke-width="0.5" opacity="0.35"/><circle cx="507.8" cy="360.23" r="2.1" fill="none" stroke="#f26a72" stroke-width="0.5" opacity="0.35"/><circle cx="509.02" cy="360.19" r="2.1" fill="none" stroke="#f26a72" stroke-width="0.5" opacity="0.35"/><circle cx="510.25" cy="360.14" r="2.1" fill="none" stroke="#f26a72" stroke-width="0.5" opacity="0.35"/><circle cx="511.47" cy="360.1" r="2.1" fill="none" stroke="#f26a72" stroke-width="0.5" opacity="0.35"/><circle cx="512.69" cy="360.06" r="2.1" fill="none" stroke="#f26a72" stroke-width="0.5" opacity="0.35"/><circle cx="513.91" cy="360.02" r="2.1" fill="none" stroke="#f26a72" stroke-width="0.5" opacity="0.35"/><circle cx="515.14" cy="359.98" r="2.1" fill="none" stroke="#f26a72" stroke-width="0.5" opacity="0.35"/><circle cx="516.36" cy="359.94" r="2.1" fill="none" stroke="#f26a72" stroke-width="0.5" opacity="0.35"/><circle cx="517.58" cy="359.9" r="2.1" fill="none" stroke="#f26a72" stroke-width="0.5" opacity="0.35"/><circle cx="518.81" cy="359.86" r="2.1" fill="none" stroke="#f26a72" stroke-width="0.5" opacity="0.35"/><circle cx="520.03" cy="359.82" r="2.1" fill="none" stroke="#f26a72" stroke-width="0.5" opacity="0.35"/><circle cx="521.25" cy="359.77" r="2.1" fill="none" stroke="#f26a72" stroke-width="0.5" opacity="0.35"/><circle cx="522.47" cy="359.73" r="2.1" fill="none" stroke="#f26a72" stroke-width="0.5" opacity="0.35"/><circle cx="523.7" cy="359.69" r="2.1" fill="none" stroke="#f26a72" stroke-width="0.5" opacity="0.35"/><circle cx="524.92" cy="359.65" r="2.1" fill="none" stroke="#f26a72" stroke-width="0.5" opacity="0.35"/><circle cx="526.14" cy="359.61" r="2.1" fill="none" stroke="#f26a72" stroke-width="0.5" opacity="0.35"/><circle cx="527.37" cy="359.57" r="2.1" fill="none" stroke="#f26a72" stroke-width="0.5" opacity="0.35"/><circle cx="528.59" cy="359.53" r="2.1" fill="none" stroke="#f26a72" stroke-width="0.5" opacity="0.35"/><circle cx="529.81" cy="359.49" r="2.1" fill="none" stroke="#f26a72" stroke-width="0.5" opacity="0.35"/><circle cx="531.03" cy="359.44" r="2.1" fill="none" stroke="#f26a72" stroke-width="0.5" opacity="0.35"/><circle cx="532.26" cy="359.4" r="2.1" fill="none" stroke="#f26a72" stroke-width="0.5" opacity="0.35"/><circle cx="533.48" cy="359.36" r="2.1" fill="none" stroke="#f26a72" stroke-width="0.5" opacity="0.35"/><circle cx="534.7" cy="359.32" r="2.1" fill="none" stroke="#f26a72" stroke-width="0.5" opacity="0.35"/><circle cx="535.93" cy="359.28" r="2.1" fill="none" stroke="#f26a72" stroke-width="0.5" opacity="0.35"/><circle cx="537.15" cy="359.24" r="2.1" fill="none" stroke="#f26a72" stroke-width="0.5" opacity="0.35"/><circle cx="538.37" cy="359.2" r="2.1" fill="none" stroke="#f26a72" stroke-width="0.5" opacity="0.35"/><circle cx="539.59" cy="359.16" r="2.1" fill="none" stroke="#f26a72" stroke-width="0.5" opacity="0.35"/><circle cx="540.82" cy="359.11" r="2.1" fill="none" stroke="#f26a72" stroke-width="0.5" opacity="0.35"/><circle cx="542.04" cy="359.07" r="2.1" fill="none" stroke="#f26a72" stroke-width="0.5" opacity="0.35"/><circle cx="543.26" cy="359.03" r="2.1" fill="none" stroke="#f26a72" stroke-width="0.5" opacity="0.35"/><circle cx="544.49" cy="358.99" r="2.1" fill="none" stroke="#f26a72" stroke-width="0.5" opacity="0.35"/><circle cx="545.71" cy="358.95" r="2.1" fill="none" stroke="#f26a72" stroke-width="0.5" opacity="0.35"/><circle cx="546.93" cy="358.91" r="2.1" fill="none" stroke="#f26a72" stroke-width="0.5" opacity="0.35"/><circle cx="548.15" cy="358.87" r="2.1" fill="none" stroke="#f26a72" stroke-width="0.5" opacity="0.35"/><circle cx="549.38" cy="358.82" r="2.1" fill="none" stroke="#f26a72" stroke-width="0.5" opacity="0.35"/><circle cx="550.6" cy="358.78" r="2.1" fill="none" stroke="#f26a72" stroke-width="0.5" opacity="0.35"/><circle cx="551.82" cy="358.74" r="2.1" fill="none" stroke="#f26a72" stroke-width="0.5" opacity="0.35"/><circle cx="553.05" cy="358.7" r="2.1" fill="none" stroke="#f26a72" stroke-width="0.5" opacity="0.35"/><circle cx="554.27" cy="358.66" r="2.1" fill="none" stroke="#f26a72" stroke-width="0.5" opacity="0.35"/><circle cx="555.49" cy="358.62" r="2.1" fill="none" stroke="#f26a72" stroke-width="0.5" opacity="0.35"/><circle cx="556.71" cy="358.57" r="2.1" fill="none" stroke="#f26a72" stroke-width="0.5" opacity="0.35"/><circle cx="557.94" cy="358.53" r="2.1" fill="none" stroke="#f26a72" stroke-width="0.5" opacity="0.35"/><circle cx="559.16" cy="358.49" r="2.1" fill="none" stroke="#f26a72" stroke-width="0.5" opacity="0.35"/><circle cx="560.38" cy="358.45" r="2.1" fill="none" stroke="#f26a72" stroke-width="0.5" opacity="0.35"/><circle cx="561.61" cy="358.4" r="2.1" fill="none" stroke="#f26a72" stroke-width="0.5" opacity="0.35"/><circle cx="562.83" cy="358.36" r="2.1" fill="none" stroke="#f26a72" stroke-width="0.5" opacity="0.35"/><circle cx="564.05" cy="358.32" r="2.1" fill="none" stroke="#f26a72" stroke-width="0.5" opacity="0.35"/><circle cx="565.27" cy="358.28" r="2.1" fill="none" stroke="#f26a72" stroke-width="0.5" opacity="0.35"/><circle cx="566.5" cy="358.23" r="2.1" fill="none" stroke="#f26a72" stroke-width="0.5" opacity="0.35"/><circle cx="567.72" cy="358.19" r="2.1" fill="none" stroke="#f26a72" stroke-width="0.5" opacity="0.35"/><circle cx="568.94" cy="358.14" r="2.1" fill="none" stroke="#f26a72" stroke-width="0.5" opacity="0.35"/><circle cx="570.17" cy="358.1" r="2.1" fill="none" stroke="#f26a72" stroke-width="0.5" opacity="0.35"/><circle cx="571.39" cy="358.05" r="2.1" fill="none" stroke="#f26a72" stroke-width="0.5" opacity="0.35"/><circle cx="572.61" cy="358.01" r="2.1" fill="none" stroke="#f26a72" stroke-width="0.5" opacity="0.35"/><circle cx="573.83" cy="357.96" r="2.1" fill="none" stroke="#f26a72" stroke-width="0.5" opacity="0.35"/><circle cx="575.06" cy="357.92" r="2.1" fill="none" stroke="#f26a72" stroke-width="0.5" opacity="0.35"/><circle cx="576.28" cy="357.87" r="2.1" fill="none" stroke="#f26a72" stroke-width="0.5" opacity="0.35"/><circle cx="577.5" cy="357.82" r="2.1" fill="none" stroke="#f26a72" stroke-width="0.5" opacity="0.35"/><circle cx="578.73" cy="357.77" r="2.1" fill="none" stroke="#f26a72" stroke-width="0.5" opacity="0.35"/><circle cx="579.95" cy="357.72" r="2.1" fill="none" stroke="#f26a72" stroke-width="0.5" opacity="0.35"/><circle cx="581.17" cy="357.67" r="2.1" fill="none" stroke="#f26a72" stroke-width="0.5" opacity="0.35"/><circle cx="582.39" cy="357.62" r="2.1" fill="none" stroke="#f26a72" stroke-width="0.5" opacity="0.35"/><circle cx="583.62" cy="357.56" r="2.1" fill="none" stroke="#f26a72" stroke-width="0.5" opacity="0.35"/><circle cx="584.84" cy="357.51" r="2.1" fill="none" stroke="#f26a72" stroke-width="0.5" opacity="0.35"/><circle cx="586.06" cy="357.45" r="2.1" fill="none" stroke="#f26a72" stroke-width="0.5" opacity="0.35"/><circle cx="587.29" cy="357.39" r="2.1" fill="none" stroke="#f26a72" stroke-width="0.5" opacity="0.35"/><circle cx="588.51" cy="357.33" r="2.1" fill="none" stroke="#f26a72" stroke-width="0.5" opacity="0.35"/><circle cx="589.73" cy="357.26" r="2.1" fill="none" stroke="#f26a72" stroke-width="0.5" opacity="0.35"/><circle cx="590.95" cy="357.19" r="2.1" fill="none" stroke="#f26a72" stroke-width="0.5" opacity="0.35"/><circle cx="592.18" cy="357.12" r="2.1" fill="none" stroke="#f26a72" stroke-width="0.5" opacity="0.35"/><circle cx="593.4" cy="357.04" r="2.1" fill="none" stroke="#f26a72" stroke-width="0.5" opacity="0.35"/><circle cx="594.62" cy="356.96" r="2.1" fill="none" stroke="#f26a72" stroke-width="0.5" opacity="0.35"/><circle cx="595.85" cy="356.87" r="2.1" fill="none" stroke="#f26a72" stroke-width="0.5" opacity="0.35"/><circle cx="597.07" cy="356.78" r="2.1" fill="none" stroke="#f26a72" stroke-width="0.5" opacity="0.35"/><circle cx="598.29" cy="356.68" r="2.1" fill="none" stroke="#f26a72" stroke-width="0.5" opacity="0.35"/><circle cx="599.51" cy="356.58" r="2.1" fill="none" stroke="#f26a72" stroke-width="0.5" opacity="0.35"/><circle cx="600.74" cy="356.46" r="2.1" fill="none" stroke="#f26a72" stroke-width="0.5" opacity="0.35"/><circle cx="601.96" cy="356.33" r="2.1" fill="none" stroke="#f26a72" stroke-width="0.5" opacity="0.35"/><circle cx="603.18" cy="356.2" r="2.1" fill="none" stroke="#f26a72" stroke-width="0.5" opacity="0.35"/><circle cx="604.41" cy="356.05" r="2.1" fill="none" stroke="#f26a72" stroke-width="0.5" opacity="0.35"/><circle cx="605.63" cy="355.89" r="2.1" fill="none" stroke="#f26a72" stroke-width="0.5" opacity="0.35"/><circle cx="606.85" cy="355.71" r="2.1" fill="none" stroke="#f26a72" stroke-width="0.5" opacity="0.35"/><circle cx="608.07" cy="355.51" r="2.1" fill="none" stroke="#f26a72" stroke-width="0.5" opacity="0.35"/><circle cx="609.3" cy="355.3" r="2.1" fill="none" stroke="#f26a72" stroke-width="0.5" opacity="0.35"/><circle cx="610.52" cy="355.06" r="2.1" fill="none" stroke="#f26a72" stroke-width="0.5" opacity="0.35"/><circle cx="611.74" cy="354.8" r="2.1" fill="none" stroke="#f26a72" stroke-width="0.5" opacity="0.35"/><circle cx="612.97" cy="354.51" r="2.1" fill="none" stroke="#f26a72" stroke-width="0.5" opacity="0.35"/><circle cx="614.19" cy="354.18" r="2.1" fill="none" stroke="#f26a72" stroke-width="0.5" opacity="0.35"/><circle cx="615.41" cy="353.82" r="2.1" fill="none" stroke="#f26a72" stroke-width="0.5" opacity="0.35"/><circle cx="616.63" cy="353.42" r="2.1" fill="none" stroke="#f26a72" stroke-width="0.5" opacity="0.35"/><circle cx="617.86" cy="352.98" r="2.1" fill="none" stroke="#f26a72" stroke-width="0.5" opacity="0.35"/><circle cx="619.08" cy="352.48" r="2.1" fill="none" stroke="#f26a72" stroke-width="0.5" opacity="0.35"/><circle cx="620.3" cy="351.93" r="2.1" fill="none" stroke="#f26a72" stroke-width="0.5" opacity="0.35"/><circle cx="621.53" cy="351.32" r="2.1" fill="none" stroke="#f26a72" stroke-width="0.5" opacity="0.35"/><circle cx="622.75" cy="350.64" r="2.1" fill="none" stroke="#f26a72" stroke-width="0.5" opacity="0.35"/><circle cx="623.97" cy="349.88" r="2.1" fill="none" stroke="#f26a72" stroke-width="0.5" opacity="0.35"/><circle cx="625.19" cy="349.04" r="2.1" fill="none" stroke="#f26a72" stroke-width="0.5" opacity="0.35"/><circle cx="626.42" cy="348.1" r="2.1" fill="none" stroke="#f26a72" stroke-width="0.5" opacity="0.35"/><circle cx="627.64" cy="347.05" r="2.1" fill="none" stroke="#f26a72" stroke-width="0.5" opacity="0.35"/><circle cx="628.86" cy="345.9" r="2.1" fill="none" stroke="#f26a72" stroke-width="0.5" opacity="0.35"/><circle cx="630.09" cy="344.62" r="2.1" fill="none" stroke="#f26a72" stroke-width="0.5" opacity="0.35"/><circle cx="631.31" cy="343.2" r="2.1" fill="none" stroke="#f26a72" stroke-width="0.5" opacity="0.35"/><circle cx="632.53" cy="341.63" r="2.1" fill="none" stroke="#f26a72" stroke-width="0.5" opacity="0.35"/><circle cx="633.75" cy="339.9" r="2.1" fill="none" stroke="#f26a72" stroke-width="0.5" opacity="0.35"/><circle cx="634.98" cy="338.01" r="2.1" fill="none" stroke="#f26a72" stroke-width="0.5" opacity="0.35"/><circle cx="636.2" cy="335.92" r="2.1" fill="none" stroke="#f26a72" stroke-width="0.5" opacity="0.35"/><circle cx="637.42" cy="333.64" r="2.1" fill="none" stroke="#f26a72" stroke-width="0.5" opacity="0.35"/><circle cx="638.65" cy="331.14" r="2.1" fill="none" stroke="#f26a72" stroke-width="0.5" opacity="0.35"/><circle cx="639.87" cy="328.43" r="2.1" fill="none" stroke="#f26a72" stroke-width="0.5" opacity="0.35"/><circle cx="641.09" cy="325.47" r="2.1" fill="none" stroke="#f26a72" stroke-width="0.5" opacity="0.35"/><circle cx="642.31" cy="322.28" r="2.1" fill="none" stroke="#f26a72" stroke-width="0.5" opacity="0.35"/><circle cx="643.54" cy="318.82" r="2.1" fill="none" stroke="#f26a72" stroke-width="0.5" opacity="0.35"/><circle cx="644.76" cy="315.11" r="2.1" fill="none" stroke="#f26a72" stroke-width="0.5" opacity="0.35"/><circle cx="645.98" cy="311.12" r="2.1" fill="none" stroke="#f26a72" stroke-width="0.5" opacity="0.35"/><circle cx="647.21" cy="306.85" r="2.1" fill="none" stroke="#f26a72" stroke-width="0.5" opacity="0.35"/><circle cx="648.43" cy="302.3" r="2.1" fill="none" stroke="#f26a72" stroke-width="0.5" opacity="0.35"/><circle cx="649.65" cy="297.46" r="2.1" fill="none" stroke="#f26a72" stroke-width="0.5" opacity="0.35"/><circle cx="650.87" cy="292.33" r="2.1" fill="none" stroke="#f26a72" stroke-width="0.5" opacity="0.35"/><circle cx="652.1" cy="286.92" r="2.1" fill="none" stroke="#f26a72" stroke-width="0.5" opacity="0.35"/><circle cx="653.32" cy="281.21" r="2.1" fill="none" stroke="#f26a72" stroke-width="0.5" opacity="0.35"/><circle cx="654.54" cy="275.21" r="2.1" fill="none" stroke="#f26a72" stroke-width="0.5" opacity="0.35"/><circle cx="655.77" cy="268.93" r="2.1" fill="none" stroke="#f26a72" stroke-width="0.5" opacity="0.35"/><circle cx="656.99" cy="262.36" r="2.1" fill="none" stroke="#f26a72" stroke-width="0.5" opacity="0.35"/><circle cx="658.21" cy="255.52" r="2.1" fill="none" stroke="#f26a72" stroke-width="0.5" opacity="0.35"/><circle cx="659.43" cy="248.41" r="2.1" fill="none" stroke="#f26a72" stroke-width="0.5" opacity="0.35"/><circle cx="660.66" cy="241.03" r="2.1" fill="none" stroke="#f26a72" stroke-width="0.5" opacity="0.35"/><circle cx="661.88" cy="233.4" r="2.1" fill="none" stroke="#f26a72" stroke-width="0.5" opacity="0.35"/><circle cx="663.1" cy="225.51" r="2.1" fill="none" stroke="#f26a72" stroke-width="0.5" opacity="0.35"/></g>
<rect x="465.0" y="243.4" width="214.0" height="159.20000000000002" fill="none" stroke="#7a7a7a" stroke-width="1"/>
<line x1="465" y1="402.6" x2="465" y2="405.8" stroke="#7a7a7a" stroke-width="1" />
<text transform="translate(465,417.8) scale(1,1.08)" font-size="11.2" text-anchor="middle" fill="#222" >0</text>
<line x1="480.29" y1="402.6" x2="480.29" y2="404.3" stroke="#7a7a7a" stroke-width="1" />
<line x1="495.57" y1="402.6" x2="495.57" y2="405.8" stroke="#7a7a7a" stroke-width="1" />
<text transform="translate(495.57,417.8) scale(1,1.08)" font-size="11.2" text-anchor="middle" fill="#222" >1</text>
<line x1="510.86" y1="402.6" x2="510.86" y2="404.3" stroke="#7a7a7a" stroke-width="1" />
<line x1="526.14" y1="402.6" x2="526.14" y2="405.8" stroke="#7a7a7a" stroke-width="1" />
<text transform="translate(526.14,417.8) scale(1,1.08)" font-size="11.2" text-anchor="middle" fill="#222" >2</text>
<line x1="541.43" y1="402.6" x2="541.43" y2="404.3" stroke="#7a7a7a" stroke-width="1" />
<line x1="556.71" y1="402.6" x2="556.71" y2="405.8" stroke="#7a7a7a" stroke-width="1" />
<text transform="translate(556.71,417.8) scale(1,1.08)" font-size="11.2" text-anchor="middle" fill="#222" >3</text>
<line x1="572" y1="402.6" x2="572" y2="404.3" stroke="#7a7a7a" stroke-width="1" />
<line x1="587.29" y1="402.6" x2="587.29" y2="405.8" stroke="#7a7a7a" stroke-width="1" />
<text transform="translate(587.29,417.8) scale(1,1.08)" font-size="11.2" text-anchor="middle" fill="#222" >4</text>
<line x1="602.57" y1="402.6" x2="602.57" y2="404.3" stroke="#7a7a7a" stroke-width="1" />
<line x1="617.86" y1="402.6" x2="617.86" y2="405.8" stroke="#7a7a7a" stroke-width="1" />
<text transform="translate(617.86,417.8) scale(1,1.08)" font-size="11.2" text-anchor="middle" fill="#222" >5</text>
<line x1="633.14" y1="402.6" x2="633.14" y2="404.3" stroke="#7a7a7a" stroke-width="1" />
<line x1="648.43" y1="402.6" x2="648.43" y2="405.8" stroke="#7a7a7a" stroke-width="1" />
<text transform="translate(648.43,417.8) scale(1,1.08)" font-size="11.2" text-anchor="middle" fill="#222" >6</text>
<line x1="663.71" y1="402.6" x2="663.71" y2="404.3" stroke="#7a7a7a" stroke-width="1" />
<line x1="679" y1="402.6" x2="679" y2="405.8" stroke="#7a7a7a" stroke-width="1" />
<text transform="translate(679,417.8) scale(1,1.08)" font-size="11.2" text-anchor="middle" fill="#222" >7</text>
<line x1="461.8" y1="243.4" x2="465" y2="243.4" stroke="#7a7a7a" stroke-width="1" />
<text transform="translate(460.4,247.6) scale(1,1.08)" font-size="11.2" text-anchor="end" fill="#222" >1</text>
<line x1="463.3" y1="254.77" x2="465" y2="254.77" stroke="#7a7a7a" stroke-width="1" />
<line x1="461.8" y1="266.14" x2="465" y2="266.14" stroke="#7a7a7a" stroke-width="1" />
<text transform="translate(460.4,270.34) scale(1,1.08)" font-size="11.2" text-anchor="end" fill="#222" >0</text>
<line x1="463.3" y1="277.51" x2="465" y2="277.51" stroke="#7a7a7a" stroke-width="1" />
<line x1="461.8" y1="288.89" x2="465" y2="288.89" stroke="#7a7a7a" stroke-width="1" />
<text transform="translate(460.4,293.09) scale(1,1.08)" font-size="11.2" text-anchor="end" fill="#222" >-1</text>
<line x1="463.3" y1="300.26" x2="465" y2="300.26" stroke="#7a7a7a" stroke-width="1" />
<line x1="461.8" y1="311.63" x2="465" y2="311.63" stroke="#7a7a7a" stroke-width="1" />
<text transform="translate(460.4,315.83) scale(1,1.08)" font-size="11.2" text-anchor="end" fill="#222" >-2</text>
<line x1="463.3" y1="323" x2="465" y2="323" stroke="#7a7a7a" stroke-width="1" />
<line x1="461.8" y1="334.37" x2="465" y2="334.37" stroke="#7a7a7a" stroke-width="1" />
<text transform="translate(460.4,338.57) scale(1,1.08)" font-size="11.2" text-anchor="end" fill="#222" >-3</text>
<line x1="463.3" y1="345.74" x2="465" y2="345.74" stroke="#7a7a7a" stroke-width="1" />
<line x1="461.8" y1="357.11" x2="465" y2="357.11" stroke="#7a7a7a" stroke-width="1" />
<text transform="translate(460.4,361.31) scale(1,1.08)" font-size="11.2" text-anchor="end" fill="#222" >-4</text>
<line x1="463.3" y1="368.49" x2="465" y2="368.49" stroke="#7a7a7a" stroke-width="1" />
<line x1="461.8" y1="379.86" x2="465" y2="379.86" stroke="#7a7a7a" stroke-width="1" />
<text transform="translate(460.4,384.06) scale(1,1.08)" font-size="11.2" text-anchor="end" fill="#222" >-5</text>
<line x1="463.3" y1="391.23" x2="465" y2="391.23" stroke="#7a7a7a" stroke-width="1" />
<line x1="461.8" y1="402.6" x2="465" y2="402.6" stroke="#7a7a7a" stroke-width="1" />
<text transform="translate(460.4,406.8) scale(1,1.08)" font-size="11.2" text-anchor="end" fill="#222" >-6</text>
<text transform="translate(442.6,322.8) rotate(-90) scale(1,1.0)" font-size="13.7" text-anchor="middle" fill="#111">Current density (mA cm<tspan font-size="9.2" dy="-5">-2</tspan><tspan dy="5">)</tspan></text>
<text x="572" y="437.6" font-size="13.9" text-anchor="middle" fill="#111" >Bias voltage (V)</text>
<text transform="translate(421,253) scale(1,1.03)" font-size="20.2" text-anchor="start" fill="#000" >f</text>
<path d="M95.35,575.72 A43.15,42.3 0 1 1 90.93,492.99 L84.4,534.8 Z" fill="#6a6a6a" />
<path d="M99.05,492.98 A42.64,41.8 0 0 1 103.42,574.73 L92.6,534.3 Z" fill="#4571a3" />
<path d="M103.62,463.72 A72.83,71.4 0 0 1 162.93,515.75 L141.16,521.49 A50.29,49.3 0 0 0 100.21,485.57 Z" fill="#e8379b" />
<path d="M162.93,515.75 A72.83,71.4 0 0 1 130,595.57 L118.42,576.6 A50.29,49.3 0 0 0 141.16,521.49 Z" fill="#6fb23a" />
<path d="M130,595.57 A72.83,71.4 0 0 1 114.16,602.5 L107.49,581.39 A50.29,49.3 0 0 0 118.42,576.6 Z" fill="#e2ab32" />
<path d="M114.16,602.5 A72.83,71.4 0 0 1 111.08,603.36 L105.36,581.99 A50.29,49.3 0 0 0 107.49,581.39 Z" fill="#b88a2c" />
<text transform="translate(121.4,491.7) scale(1,1.18)" font-size="10.1" text-anchor="start" fill="#1a1a1a" >18.4%</text>
<text transform="translate(121.4,503.9) scale(1,1.18)" font-size="10.1" text-anchor="start" fill="#1a1a1a" >Active area shunting</text>
<text transform="translate(43.8,541.2) scale(1,1.18)" font-size="10.1" text-anchor="start" fill="#1a1a1a" >56.5%</text>
<text transform="translate(84.6,549.6) scale(1,1.18)" font-size="10.1" text-anchor="end" fill="#1a1a1a" >Photoactive area</text>
<text transform="translate(103.6,538) scale(1,1.18)" font-size="10.1" text-anchor="start" fill="#1a1a1a" >43.5%</text>
<text transform="translate(99.5,548.5) scale(1,1.18)" font-size="10.1" text-anchor="start" fill="#1a1a1a" >Losses</text>
<text transform="translate(138.6,562.6) scale(1,1.18)" font-size="10.1" text-anchor="start" fill="#1a1a1a" >20.6%</text>
<text transform="translate(132.8,574.3) scale(1,1.18)" font-size="10.1" text-anchor="start" fill="#1a1a1a" >Dead area</text>
<text transform="translate(106.9,589.6) scale(1,1.18)" font-size="10.1" text-anchor="start" fill="#1a1a1a" >3.8%</text>
<text transform="translate(99.1,599.5) scale(1,1.18)" font-size="10.1" text-anchor="start" fill="#1a1a1a" >0.7%</text>
<text transform="translate(124.1,606.3) scale(1,1.18)" font-size="10.1" text-anchor="start" fill="#1a1a1a" >Scribing</text>
<text transform="translate(102.8,614.1) scale(1,1.18)" font-size="10.1" text-anchor="start" fill="#1a1a1a" >TCO</text>
<text transform="translate(-0.2,462.8) scale(1,1.03)" font-size="20.2" text-anchor="start" fill="#000" >g</text>
<path d="M342.64,561.65 A44.73,42.6 0 1 1 342.64,507.75 L308,534.7 Z" fill="#6a6a6a" />
<path d="M351,507.94 A44.41,42.3 0 0 1 351,561.46 L316.6,534.7 Z" fill="#4571a3" />
<path d="M375.64,488.78 A76.23,72.6 0 0 1 386.94,562.69 L366.2,554.44 A53.76,51.2 0 0 0 358.24,502.31 Z" fill="#6fb23a" />
<path d="M386.94,562.69 A76.23,72.6 0 0 1 377.7,578.11 L359.69,565.31 A53.76,51.2 0 0 0 366.2,554.44 Z" fill="#e2ab32" />
<path d="M377.7,578.11 A76.23,72.6 0 0 1 375.64,580.62 L358.24,567.09 A53.76,51.2 0 0 0 359.69,565.31 Z" fill="#b88a2c" />
<text transform="translate(263.7,539.2) scale(1,1.06)" font-size="11.1" text-anchor="start" fill="#1a1a1a" >78.2%</text>
<text transform="translate(230.8,552.3) scale(1,1.06)" font-size="11.1" text-anchor="start" fill="#1a1a1a" textLength="86.2">Photoactive area</text>
<text transform="translate(327.4,538) scale(1,1.06)" font-size="11.1" text-anchor="start" fill="#1a1a1a" >21.8%</text>
<text transform="translate(324.2,548.8) scale(1,1.06)" font-size="11.1" text-anchor="start" fill="#1a1a1a" >Losses</text>
<text transform="translate(368.2,527.5) scale(1,1.06)" font-size="11.1" text-anchor="start" fill="#1a1a1a" >17.2%</text>
<text transform="translate(367,540.7) scale(1,1.06)" font-size="11.1" text-anchor="start" fill="#1a1a1a" >Dead area</text>
<text transform="translate(362.8,564.3) scale(1,1.06)" font-size="11.1" text-anchor="start" fill="#1a1a1a" >3.9%</text>
<text transform="translate(357.7,576.6) scale(1,1.06)" font-size="11.1" text-anchor="start" fill="#1a1a1a" >0.7%</text>
<text transform="translate(392.7,567.8) scale(1,1.06)" font-size="11.1" text-anchor="start" fill="#1a1a1a" >Scribing</text>
<text transform="translate(385.7,585.7) scale(1,1.06)" font-size="11.1" text-anchor="start" fill="#1a1a1a" >TCO</text>
<text transform="translate(217.8,463.2) scale(1,1.03)" font-size="20.2" text-anchor="start" fill="#000" >h</text>
<rect x="466.5" y="456.0" width="212.10000000000002" height="139.70000000000005" fill="none" stroke="#7a7a7a" stroke-width="1"/>
<line x1="477.66" y1="595.7" x2="477.66" y2="598.9" stroke="#7a7a7a" stroke-width="1" />
<text transform="translate(477.66,609.3) scale(1,1.1)" font-size="10.4" text-anchor="middle" fill="#222" >1</text>
<line x1="488.83" y1="595.7" x2="488.83" y2="597.4" stroke="#7a7a7a" stroke-width="1" />
<line x1="499.99" y1="595.7" x2="499.99" y2="598.9" stroke="#7a7a7a" stroke-width="1" />
<text transform="translate(499.99,609.3) scale(1,1.1)" font-size="10.4" text-anchor="middle" fill="#222" >3</text>
<line x1="511.15" y1="595.7" x2="511.15" y2="597.4" stroke="#7a7a7a" stroke-width="1" />
<line x1="522.32" y1="595.7" x2="522.32" y2="598.9" stroke="#7a7a7a" stroke-width="1" />
<text transform="translate(522.32,609.3) scale(1,1.1)" font-size="10.4" text-anchor="middle" fill="#222" >5</text>
<line x1="533.48" y1="595.7" x2="533.48" y2="597.4" stroke="#7a7a7a" stroke-width="1" />
<line x1="544.64" y1="595.7" x2="544.64" y2="598.9" stroke="#7a7a7a" stroke-width="1" />
<text transform="translate(544.64,609.3) scale(1,1.1)" font-size="10.4" text-anchor="middle" fill="#222" >7</text>
<line x1="555.81" y1="595.7" x2="555.81" y2="597.4" stroke="#7a7a7a" stroke-width="1" />
<line x1="566.97" y1="595.7" x2="566.97" y2="598.9" stroke="#7a7a7a" stroke-width="1" />
<text transform="translate(566.97,609.3) scale(1,1.1)" font-size="10.4" text-anchor="middle" fill="#222" >9</text>
<line x1="578.13" y1="595.7" x2="578.13" y2="597.4" stroke="#7a7a7a" stroke-width="1" />
<line x1="589.29" y1="595.7" x2="589.29" y2="598.9" stroke="#7a7a7a" stroke-width="1" />
<text transform="translate(589.29,609.3) scale(1,1.1)" font-size="10.4" text-anchor="middle" fill="#222" >11</text>
<line x1="600.46" y1="595.7" x2="600.46" y2="597.4" stroke="#7a7a7a" stroke-width="1" />
<line x1="611.62" y1="595.7" x2="611.62" y2="598.9" stroke="#7a7a7a" stroke-width="1" />
<text transform="translate(611.62,609.3) scale(1,1.1)" font-size="10.4" text-anchor="middle" fill="#222" >13</text>
<line x1="622.78" y1="595.7" x2="622.78" y2="597.4" stroke="#7a7a7a" stroke-width="1" />
<line x1="633.95" y1="595.7" x2="633.95" y2="598.9" stroke="#7a7a7a" stroke-width="1" />
<text transform="translate(633.95,609.3) scale(1,1.1)" font-size="10.4" text-anchor="middle" fill="#222" >15</text>
<line x1="645.11" y1="595.7" x2="645.11" y2="597.4" stroke="#7a7a7a" stroke-width="1" />
<line x1="656.27" y1="595.7" x2="656.27" y2="598.9" stroke="#7a7a7a" stroke-width="1" />
<text transform="translate(656.27,609.3) scale(1,1.1)" font-size="10.4" text-anchor="middle" fill="#222" >17</text>
<line x1="667.44" y1="595.7" x2="667.44" y2="597.4" stroke="#7a7a7a" stroke-width="1" />
<line x1="678.6" y1="595.7" x2="678.6" y2="598.9" stroke="#7a7a7a" stroke-width="1" />
<text transform="translate(678.6,609.3) scale(1,1.1)" font-size="10.4" text-anchor="middle" fill="#222" >19</text>
<line x1="463.3" y1="585.3" x2="466.5" y2="585.3" stroke="#7a7a7a" stroke-width="1" />
<text transform="translate(461,589.2) scale(1,1.1)" font-size="10.4" text-anchor="end" fill="#222" >4</text>
<line x1="464.8" y1="574.48" x2="466.5" y2="574.48" stroke="#7a7a7a" stroke-width="1" />
<line x1="463.3" y1="563.66" x2="466.5" y2="563.66" stroke="#7a7a7a" stroke-width="1" />
<text transform="translate(461,567.56) scale(1,1.1)" font-size="10.4" text-anchor="end" fill="#222" >8</text>
<line x1="464.8" y1="552.84" x2="466.5" y2="552.84" stroke="#7a7a7a" stroke-width="1" />
<line x1="463.3" y1="542.02" x2="466.5" y2="542.02" stroke="#7a7a7a" stroke-width="1" />
<text transform="translate(461,545.92) scale(1,1.1)" font-size="10.4" text-anchor="end" fill="#222" >12</text>
<line x1="464.8" y1="531.2" x2="466.5" y2="531.2" stroke="#7a7a7a" stroke-width="1" />
<line x1="463.3" y1="520.38" x2="466.5" y2="520.38" stroke="#7a7a7a" stroke-width="1" />
<text transform="translate(461,524.28) scale(1,1.1)" font-size="10.4" text-anchor="end" fill="#222" >16</text>
<line x1="464.8" y1="509.56" x2="466.5" y2="509.56" stroke="#7a7a7a" stroke-width="1" />
<line x1="463.3" y1="498.74" x2="466.5" y2="498.74" stroke="#7a7a7a" stroke-width="1" />
<text transform="translate(461,502.64) scale(1,1.1)" font-size="10.4" text-anchor="end" fill="#222" >20</text>
<line x1="464.8" y1="487.92" x2="466.5" y2="487.92" stroke="#7a7a7a" stroke-width="1" />
<line x1="463.3" y1="477.1" x2="466.5" y2="477.1" stroke="#7a7a7a" stroke-width="1" />
<text transform="translate(461,481) scale(1,1.1)" font-size="10.4" text-anchor="end" fill="#222" >24</text>
<line x1="464.8" y1="466.28" x2="466.5" y2="466.28" stroke="#7a7a7a" stroke-width="1" />
<line x1="463.3" y1="455.46" x2="466.5" y2="455.46" stroke="#7a7a7a" stroke-width="1" />
<text transform="translate(461,459.36) scale(1,1.1)" font-size="10.4" text-anchor="end" fill="#222" >28</text>
<line x1="466.5" y1="470.2" x2="678.6" y2="470.2" stroke="#2a2a2a" stroke-width="1.2" />
<line x1="466.5" y1="476.1" x2="678.6" y2="476.1" stroke="#777" stroke-width="1" stroke-dasharray="4.2 2.6"/>
<line x1="611.62" y1="456" x2="611.62" y2="595.7" stroke="#777" stroke-width="1" stroke-dasharray="4.2 2.6"/>
<path d="M477.66,578.1 C479.52,573.26 485.11,558.58 488.83,549.05 C492.55,539.52 496.27,528.99 499.99,520.92 C503.71,512.85 507.43,505.91 511.15,500.63 C514.87,495.36 518.59,492.11 522.32,489.27 C526.04,486.43 529.76,485.08 533.48,483.59 C537.2,482.1 540.92,481.18 544.64,480.35 C548.36,479.52 552.08,479.11 555.81,478.61 C559.53,478.12 563.25,477.7 566.97,477.37 C570.69,477.05 574.41,476.85 578.13,476.67 C581.85,476.49 585.57,476.4 589.29,476.29 C593.02,476.18 596.74,476.12 600.46,476.02 C604.18,475.92 607.9,475.73 611.62,475.69 C615.34,475.66 619.06,475.77 622.78,475.8 C626.51,475.83 630.23,475.84 633.95,475.86 C637.67,475.87 641.39,475.89 645.11,475.91 C648.83,475.93 652.55,475.95 656.27,475.96 C659.99,475.98 663.72,476.01 667.44,476.02 C671.16,476.03 676.74,476.02 678.6,476.02" fill="none" stroke="#3b6ea7" stroke-width="1.5"/>
<circle cx="477.66" cy="578.1" r="3.1" fill="#5f8cbe" fill-opacity="0.74"/>
<circle cx="488.83" cy="549.05" r="3.1" fill="#5f8cbe" fill-opacity="0.74"/>
<circle cx="499.99" cy="520.92" r="3.1" fill="#5f8cbe" fill-opacity="0.74"/>
<circle cx="511.15" cy="500.63" r="3.1" fill="#5f8cbe" fill-opacity="0.74"/>
<circle cx="522.32" cy="489.27" r="3.1" fill="#5f8cbe" fill-opacity="0.74"/>
<circle cx="533.48" cy="483.59" r="3.1" fill="#5f8cbe" fill-opacity="0.74"/>
<circle cx="544.64" cy="480.35" r="3.1" fill="#5f8cbe" fill-opacity="0.74"/>
<circle cx="555.81" cy="478.61" r="3.1" fill="#5f8cbe" fill-opacity="0.74"/>
<circle cx="566.97" cy="477.37" r="3.1" fill="#5f8cbe" fill-opacity="0.74"/>
<circle cx="578.13" cy="476.67" r="3.1" fill="#5f8cbe" fill-opacity="0.74"/>
<circle cx="589.29" cy="476.29" r="3.1" fill="#5f8cbe" fill-opacity="0.74"/>
<circle cx="600.46" cy="476.02" r="3.1" fill="#5f8cbe" fill-opacity="0.74"/>
<circle cx="622.78" cy="475.8" r="3.1" fill="#5f8cbe" fill-opacity="0.74"/>
<circle cx="633.95" cy="475.86" r="3.1" fill="#5f8cbe" fill-opacity="0.74"/>
<circle cx="645.11" cy="475.91" r="3.1" fill="#5f8cbe" fill-opacity="0.74"/>
<circle cx="656.27" cy="475.96" r="3.1" fill="#5f8cbe" fill-opacity="0.74"/>
<circle cx="667.44" cy="476.02" r="3.1" fill="#5f8cbe" fill-opacity="0.74"/>
<circle cx="678.6" cy="476.02" r="3.1" fill="#5f8cbe" fill-opacity="0.74"/>
<circle cx="611.62" cy="475.69" r="3.9" fill="#f01818"/>
<text transform="translate(509.2,466.1) scale(1,1.18)" font-size="9.0" text-anchor="start" fill="#1a1a1a" >Small area cell: 25.4%</text>
<line x1="601.5" y1="463.6" x2="608.9" y2="468" stroke="#444" stroke-width="0.6" stroke-dasharray="1.4 0.9"/>
<path d="M610.3,468.9 L607.1,468.9 L608.4,466.6 Z" fill="#444"/>
<rect x="553.3" y="493.6" width="123.2" height="23.8" fill="#fff" stroke="#f4a4a4" stroke-width="0.8"/>
<text transform="translate(613.3,502.8) scale(1,1.18)" font-size="9.15" text-anchor="middle" fill="#e8232a" >Module with</text>
<text transform="translate(614.4,513.9) scale(1,1.18)" font-size="9.15" text-anchor="middle" fill="#e8232a" >optimal configuration: 24.26%</text>
<line x1="617.6" y1="492.5" x2="613.9" y2="481.8" stroke="#e8232a" stroke-width="0.7" />
<path d="M613.2,479.9 L612.6,483.0 L615.0,482.2 Z" fill="#e8232a"/>
<text transform="translate(447.3,525.3) rotate(-90) scale(1,1.0)" font-size="11.7" text-anchor="middle" fill="#111">PCE (%)</text>
<text transform="translate(572.7,626.6) scale(1,1.06)" font-size="11.3" text-anchor="middle" fill="#111" >Numbers of subcells</text>
<text transform="translate(426.8,462.6) scale(1,1.03)" font-size="20.2" text-anchor="start" fill="#000" >i</text>
</svg></body></html>
